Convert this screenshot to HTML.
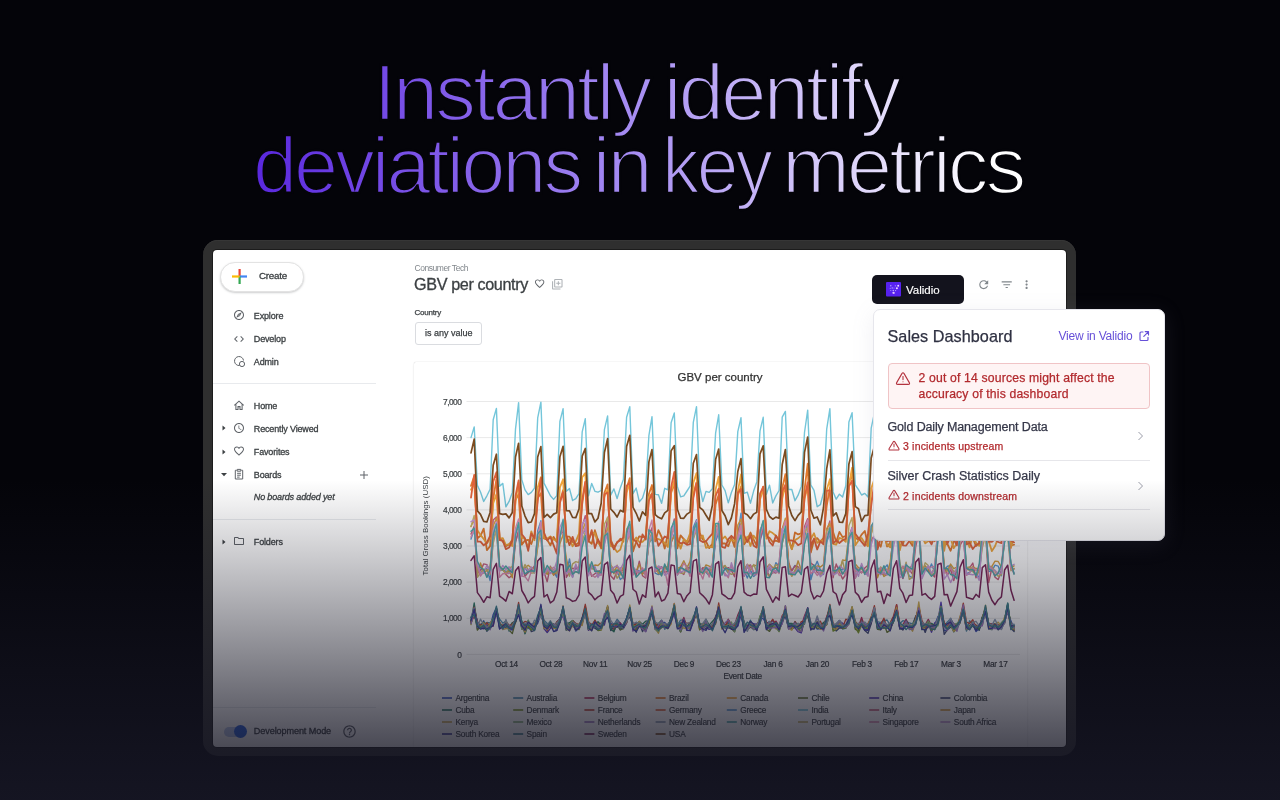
<!DOCTYPE html>
<html><head><meta charset="utf-8">
<style>
*{margin:0;padding:0;box-sizing:border-box}
html,body{width:1280px;height:800px;overflow:hidden;background:#040409;font-family:"Liberation Sans",sans-serif}
body{will-change:transform}
.t{position:absolute;white-space:nowrap;line-height:1}
#headline{position:absolute;left:0;top:0;width:1280px;height:240px}
#frame{position:absolute;left:203px;top:240px;width:873px;height:516px;border-radius:15px;background:#2f2f2f;box-shadow:inset 0 1px 0 #363636}
#screen{position:absolute;left:213px;top:250px;width:853px;height:497px;border-radius:4px;background:#fff;overflow:hidden;box-shadow:0 0 0 1px #1c1c1c}
.side{color:#3c4043;font-size:9px;letter-spacing:-.15px;-webkit-text-stroke:.3px #3c4043}
.ico{position:absolute}
#overlay{position:absolute;left:0;top:480px;width:1280px;height:320px;background:linear-gradient(to bottom,rgba(22,22,36,0) 0%,rgba(22,22,36,.93) 100%)}
</style></head><body>
<svg id="headline" width="1280" height="240" viewBox="0 0 1280 240">
<defs><linearGradient id="hg" gradientUnits="userSpaceOnUse" x1="256" y1="0" x2="990" y2="0">
<stop offset="0" stop-color="#5a28de"/><stop offset=".5" stop-color="#a48af2"/><stop offset="1" stop-color="#ffffff"/></linearGradient></defs>
<g font-family="Liberation Sans" font-size="79" letter-spacing="-3" fill="url(#hg)" stroke="#040409" stroke-width="2.3">
<text x="373.5" y="119.5" textLength="275.68" lengthAdjust="spacingAndGlyphs">Instantly</text>
<text x="663.5" y="119.5" textLength="234.62" lengthAdjust="spacingAndGlyphs">identify</text>
<text x="253" y="192.5" textLength="327.06" lengthAdjust="spacingAndGlyphs">deviations</text>
<text x="592.5" y="192.5" textLength="57.04" lengthAdjust="spacingAndGlyphs">in</text>
<text x="662.0" y="192.5" textLength="108.21" lengthAdjust="spacingAndGlyphs">key</text>
<text x="782.0" y="192.5" textLength="241.25" lengthAdjust="spacingAndGlyphs">metrics</text>
</g></svg>
<div id="frame"></div>
<div id="screen">
<!-- sidebar -->
<div style="position:absolute;left:7px;top:12px;width:83.5px;height:29.5px;border-radius:15px;background:#fff;border:1px solid #e3e3e3;box-shadow:0 1px 2px rgba(60,64,67,.25)"></div>
<svg class="ico" style="left:18px;top:18px" width="17" height="17" viewBox="0 0 17 17">
<rect x="7.5" y="1" width="2.2" height="7.5" fill="#ea4335"/>
<rect x="8.6" y="7.4" width="7.4" height="2.2" fill="#4285f4"/>
<rect x="7.5" y="8.5" width="2.2" height="7.5" fill="#34a853"/>
<rect x="1" y="7.4" width="7.5" height="2.2" fill="#fbbc04"/>
</svg>
<div class="t side" id="s_create" style="left:46px;top:21.40px;font-size:9.8px;letter-spacing:-.25px">Create</div>

<svg class="ico" style="left:20px;top:59.3px" width="12.00" height="12.00" viewBox="0 0 24 24"><path fill="#5f6368" d="M12 2C6.48 2 2 6.48 2 12s4.48 10 10 10 10-4.48 10-10S17.52 2 12 2zm0 18c-4.41 0-8-3.59-8-8s3.59-8 8-8 8 3.59 8 8-3.59 8-8 8zm-5.5-2.5l7.51-3.49L17.5 6.5 9.99 9.99 6.5 17.5zm5.5-6.6c.61 0 1.1.49 1.1 1.1s-.49 1.1-1.1 1.1-1.1-.49-1.1-1.1.49-1.1 1.1-1.1z"/></svg>
<div class="t side" id="s_explore" style="left:40.8px;top:61.98px">Explore</div>
<svg class="ico" style="left:20px;top:82.5px" width="12.00" height="12.00" viewBox="0 0 24 24"><path fill="#5f6368" d="M9.4 16.6L4.8 12l4.6-4.6L8 6l-6 6 6 6 1.4-1.4zm5.2 0l4.6-4.6-4.6-4.6L16 6l6 6-6 6-1.4-1.4z"/></svg>
<div class="t side" id="s_develop" style="left:40.8px;top:85.08px">Develop</div>
<svg class="ico" style="left:20px;top:105px" width="13" height="13" viewBox="0 0 13 13" fill="none" stroke="#5f6368" stroke-width="1">
<path d="M6.5 10.5 A4.5 4.5 0 1 1 10.5 5.5"/><circle cx="9" cy="9" r="2.6"/>
</svg>
<div class="t side" id="s_admin" style="left:40.8px;top:107.78px">Admin</div>

<div style="position:absolute;left:0;top:133px;width:163px;height:1px;background:#e8eaed"></div>

<svg class="ico" style="left:20px;top:148.7px" width="12" height="12" viewBox="0 0 12 12" fill="none" stroke="#5f6368" stroke-width="1.05"><path d="M1.3 6.4 L6 2.1 L10.7 6.4 M2.9 5.1 V10.5 H5 V7.6 H7 V10.5 H9.1 V5.1"/></svg>
<div class="t side" id="s_home" style="left:40.8px;top:151.58px">Home</div>

<svg class="ico" style="left:8px;top:174px" width="6" height="8" viewBox="0 0 6 8"><path d="M1.5 1.5 L4.5 4 L1.5 6.5Z" fill="#3c4043"/></svg>
<svg class="ico" style="left:20px;top:172.4px" width="12.00" height="12.00" viewBox="0 0 24 24"><path fill="#5f6368" d="M11.99 2C6.47 2 2 6.48 2 12s4.47 10 9.99 10C17.52 22 22 17.52 22 12S17.52 2 11.99 2zM12 20c-4.42 0-8-3.58-8-8s3.58-8 8-8 8 3.58 8 8-3.58 8-8 8zm.5-13H11v6l5.25 3.15.75-1.23-4.5-2.67z"/></svg>
<div class="t side" id="s_recent" style="left:40.8px;top:174.68px">Recently Viewed</div>

<svg class="ico" style="left:8px;top:197.6px" width="6" height="8" viewBox="0 0 6 8"><path d="M1.5 1.5 L4.5 4 L1.5 6.5Z" fill="#3c4043"/></svg>
<svg class="ico" style="left:20px;top:195.4px" width="12.00" height="12.00" viewBox="0 0 24 24"><path fill="#5f6368" d="M16.5 3c-1.74 0-3.41.81-4.5 2.09C10.91 3.810 9.24 3 7.5 3 4.42 3 2 5.42 2 8.5c0 3.78 3.4 6.86 8.55 11.54L12 21.35l1.45-1.32C18.6 15.36 22 12.28 22 8.5 22 5.42 19.58 3 16.5 3zm-4.4 15.55l-.1.1-.1-.1C7.14 14.24 4 11.39 4 8.5 4 6.5 5.5 5 7.5 5c1.54 0 3.04.99 3.57 2.36h1.87C13.46 5.99 14.96 5 16.5 5c2 0 3.5 1.5 3.5 3.5 0 2.89-3.14 5.74-7.9 10.05z"/></svg>
<div class="t side" id="s_fav" style="left:40.8px;top:197.68px">Favorites</div>

<svg class="ico" style="left:7px;top:221px" width="8" height="7" viewBox="0 0 8 7"><path d="M1 2 L4 5.2 L7 2Z" fill="#3c4043"/></svg>
<svg class="ico" style="left:20.25px;top:217.8px" width="12" height="12" viewBox="0 0 12 12" fill="none" stroke="#5f6368" stroke-width="1"><path d="M3.6 2.3 H2.3 V11 H9.7 V2.3 H8.4 M4.2 1.4 H7.8 V3.2 H4.2 Z M4.1 5.3 H7.9 M4.1 7.2 H7.9 M4.1 9.1 H6.6"/></svg>
<div class="t side" id="s_boards" style="left:40.8px;top:220.58px">Boards</div>
<svg class="ico" style="left:146px;top:219.5px" width="10" height="10" viewBox="0 0 10 10" fill="none" stroke="#5f6368" stroke-width="1"><path d="M5 1 V9 M1 5 H9"/></svg>
<div class="t side" id="s_noboards" style="left:40.8px;top:243.48px;font-style:italic">No boards added yet</div>

<div style="position:absolute;left:0;top:269px;width:163px;height:1px;background:#e8eaed"></div>

<svg class="ico" style="left:8px;top:287.5px" width="6" height="8" viewBox="0 0 6 8"><path d="M1.5 1.5 L4.5 4 L1.5 6.5Z" fill="#3c4043"/></svg>
<svg class="ico" style="left:20px;top:285px" width="12.00" height="12.00" viewBox="0 0 24 24"><path fill="#5f6368" d="M9.17 6l2 2H20v10H4V6h5.17M10 4H4c-1.1 0-1.99.9-1.99 2L2 18c0 1.1.9 2 2 2h16c1.1 0 2-.9 2-2V8c0-1.1-.9-2-2-2h-8l-2-2z"/></svg>
<div class="t side" id="s_folders" style="left:40.8px;top:287.50px">Folders</div>

<div style="position:absolute;left:0;top:457px;width:163px;height:1px;background:#e8eaed"></div>
<div style="position:absolute;left:11px;top:477px;width:21px;height:9.5px;border-radius:5px;background:#b9c9ec"></div>
<div style="position:absolute;left:21px;top:475.2px;width:13px;height:13px;border-radius:50%;background:#2a62dc"></div>
<div class="t side" id="s_devmode" style="left:40.8px;top:477.2px;font-size:9.1px;letter-spacing:-.1px">Development Mode</div>
<svg class="ico" style="left:129.1px;top:474.1px" width="15.00" height="15.00" viewBox="0 0 24 24"><path fill="#5f6368" d="M11 18h2v-2h-2v2zm1-16C6.48 2 2 6.48 2 12s4.48 10 10 10 10-4.48 10-10S17.52 2 12 2zm0 18c-4.41 0-8-3.59-8-8s3.59-8 8-8 8 3.59 8 8-3.59 8-8 8zm0-14c-2.21 0-4 1.79-4 4h2c0-1.1.9-2 2-2s2 .9 2 2c0 2-3 1.75-3 5h2c0-2.25 3-2.5 3-5 0-2.21-1.79-4-4-4z"/></svg>

<!-- header -->
<div class="t" id="h_ct" style="left:201.5px;top:13.6px;font-size:8.5px;letter-spacing:-.45px;color:#80868b">Consumer Tech</div>
<div class="t" id="h_title" style="-webkit-text-stroke:.3px currentColor;left:201px;top:26.2px;font-size:16.2px;letter-spacing:-.38px;color:#3c4043">GBV per country</div>
<svg class="ico" style="left:320.7px;top:28.3px" width="11.28" height="11.28" viewBox="0 0 24 24"><path fill="#5f6368" d="M16.5 3c-1.74 0-3.41.81-4.5 2.09C10.91 3.810 9.24 3 7.5 3 4.42 3 2 5.42 2 8.5c0 3.78 3.4 6.86 8.55 11.54L12 21.35l1.45-1.32C18.6 15.36 22 12.28 22 8.5 22 5.42 19.58 3 16.5 3zm-4.4 15.55l-.1.1-.1-.1C7.14 14.24 4 11.39 4 8.5 4 6.5 5.5 5 7.5 5c1.54 0 3.04.99 3.57 2.36h1.87C13.46 5.99 14.96 5 16.5 5c2 0 3.5 1.5 3.5 3.5 0 2.89-3.14 5.74-7.9 10.05z"/></svg>
<svg class="ico" style="left:337.95px;top:27.7px" width="12.60" height="12.60" viewBox="0 0 24 24"><path fill="#aeb2b6" d="M4 6H2v14c0 1.1.9 2 2 2h14v-2H4V6zm16-4H8c-1.1 0-2 .9-2 2v12c0 1.1.9 2 2 2h12c1.1 0 2-.9 2-2V4c0-1.1-.9-2-2-2zm0 14H8V4h12v12zm-7-2h2v-3h3V9h-3V6h-2v3h-3v2h3z"/></svg>
<div class="t" id="h_country" style="-webkit-text-stroke:.25px currentColor;left:201.5px;top:58.7px;font-size:8px;letter-spacing:-.2px;color:#3c4043">Country</div>
<div style="position:absolute;left:201.5px;top:71.5px;width:67px;height:23px;border:1px solid #dadce0;border-radius:3px;background:#fff"></div>
<div class="t" id="h_any" style="-webkit-text-stroke:.25px currentColor;left:212px;top:79px;font-size:9px;color:#3c4043">is any value</div>

<!-- toolbar -->
<div style="position:absolute;left:659.2px;top:25.2px;width:91.7px;height:28.4px;border-radius:5px;background:#13131d"></div>
<svg class="ico" style="left:673px;top:32px" width="15" height="14.5" viewBox="0 0 15 14.5">
<rect width="15" height="14.5" rx="1" fill="#5722f0"/>
<g fill="#b9a4ff"><circle cx="4.8" cy="3.8" r=".7"/><circle cx="9.3" cy="3.8" r=".6"/><circle cx="4.2" cy="6.2" r=".5"/><circle cx="6.2" cy="6" r=".7"/><circle cx="8" cy="6" r=".5"/>
<circle cx="4.8" cy="8.6" r=".5"/><circle cx="7.3" cy="8.6" r=".8"/><circle cx="9.6" cy="8.6" r=".6"/><circle cx="8.3" cy="10.8" r=".6"/><circle cx="6.5" cy="10.8" r=".5"/></g>
<g fill="#f0d8ff"><circle cx="12.2" cy="3.8" r=".95"/><circle cx="10.9" cy="6.3" r="1"/><circle cx="7.6" cy="10.9" r=".9"/></g>
</svg>
<div class="t" id="v_btn" style="-webkit-text-stroke:.15px currentColor;left:693px;top:35px;font-size:11.5px;color:#fff">Validio</div>
<svg class="ico" style="left:763.68px;top:27.78px" width="13.44" height="13.44" viewBox="0 0 24 24"><path fill="#80868b" d="M17.65 6.35C16.2 4.9 14.21 4 12 4c-4.42 0-7.99 3.58-7.99 8s3.57 8 7.99 8c3.730 0 6.84-2.55 7.73-6h-2.08c-.82 2.33-3.04 4-5.65 4-3.310 0-6-2.69-6-6s2.69-6 6-6c1.66 0 3.14.69 4.22 1.78L13 11h7V4l-2.35 2.35z"/></svg>
<svg class="ico" style="left:786.78px;top:27.68px" width="13.44" height="13.44" viewBox="0 0 24 24"><path fill="#80868b" d="M10 18h4v-2h-4v2zM3 6v2h18V6H3zm3 7h12v-2H6v2z"/></svg>
<svg class="ico" style="left:807.25px;top:27.9px" width="13.20" height="13.20" viewBox="0 0 24 24"><path fill="#80868b" d="M12 8c1.1 0 2-.9 2-2s-.9-2-2-2-2 .9-2 2 .9 2 2 2zm0 2c-1.1 0-2 .9-2 2s.9 2 2 2 2-.9 2-2-.9-2-2-2zm0 6c-1.1 0-2 .9-2 2s.9 2 2 2 2-.9 2-2-.9-2-2-2z"/></svg>

<!-- chart card -->
<div style="position:absolute;left:201px;top:112px;width:612.5px;height:420px;background:#fff;border-radius:2px;box-shadow:0 0 1px rgba(0,0,0,.25),0 1px 3px rgba(0,0,0,.06)"></div>
<div class="t" id="c_title" style="-webkit-text-stroke:.25px currentColor;left:464.5px;top:122px;font-size:11.5px;color:#333">GBV per country</div>
<svg class="ico" style="left:0;top:0" width="853" height="497" viewBox="213 250 853 497">
<line x1="466.5" y1="654.4" x2="1020" y2="654.4" stroke="#e9e9e9" stroke-width="1"/>
<line x1="466.5" y1="618.3" x2="1020" y2="618.3" stroke="#e9e9e9" stroke-width="1"/>
<line x1="466.5" y1="582.1" x2="1020" y2="582.1" stroke="#e9e9e9" stroke-width="1"/>
<line x1="466.5" y1="546.0" x2="1020" y2="546.0" stroke="#e9e9e9" stroke-width="1"/>
<line x1="466.5" y1="509.9" x2="1020" y2="509.9" stroke="#e9e9e9" stroke-width="1"/>
<line x1="466.5" y1="473.8" x2="1020" y2="473.8" stroke="#e9e9e9" stroke-width="1"/>
<line x1="466.5" y1="437.6" x2="1020" y2="437.6" stroke="#e9e9e9" stroke-width="1"/>
<line x1="466.5" y1="401.5" x2="1020" y2="401.5" stroke="#e9e9e9" stroke-width="1"/>
<g font-family="Liberation Sans" font-size="8.4" letter-spacing="-0.55" fill="#3c4043" stroke="#3c4043" stroke-width="0.2" text-anchor="end">
<text id="yl_0" x="461.3" y="657.5">0</text>
<text id="yl_1" x="461.3" y="621.4">1,000</text>
<text id="yl_2" x="461.3" y="585.2">2,000</text>
<text id="yl_3" x="461.3" y="549.1">3,000</text>
<text id="yl_4" x="461.3" y="513.0">4,000</text>
<text id="yl_5" x="461.3" y="476.9">5,000</text>
<text id="yl_6" x="461.3" y="440.7">6,000</text>
<text id="yl_7" x="461.3" y="404.6">7,000</text>
</g>
<text id="ytitle" transform="translate(428.4 525.8) rotate(-90)" font-family="Liberation Sans" font-size="7.95" fill="#3c4043" text-anchor="middle">Total Gross Bookings (USD)</text>
<g font-family="Liberation Sans" font-size="8.3" letter-spacing="-0.25" fill="#3c4043" stroke="#3c4043" stroke-width="0.2" text-anchor="middle">
<text id="xl_Oct_14" x="506.4" y="666.7">Oct 14</text>
<text id="xl_Oct_28" x="551" y="666.7">Oct 28</text>
<text id="xl_Nov_11" x="595.2" y="666.7">Nov 11</text>
<text id="xl_Nov_25" x="639.6" y="666.7">Nov 25</text>
<text id="xl_Dec_9" x="684" y="666.7">Dec 9</text>
<text id="xl_Dec_23" x="728.4" y="666.7">Dec 23</text>
<text id="xl_Jan_6" x="773" y="666.7">Jan 6</text>
<text id="xl_Jan_20" x="817.5" y="666.7">Jan 20</text>
<text id="xl_Feb_3" x="862" y="666.7">Feb 3</text>
<text id="xl_Feb_17" x="906.3" y="666.7">Feb 17</text>
<text id="xl_Mar_3" x="951" y="666.7">Mar 3</text>
<text id="xl_Mar_17" x="995.4" y="666.7">Mar 17</text>
<text id="xtitle" x="742.7" y="678.8">Event Date</text>
</g>
<g fill="none" stroke-linejoin="round" stroke-linecap="round">
<polyline points="471.0,617.8 474.2,610.8 477.4,629.2 480.5,626.8 483.7,620.8 486.9,631.2 490.1,627.5 493.2,614.5 496.4,607.8 499.6,627.2 502.8,627.5 505.9,623.6 509.1,628.7 512.3,630.0 515.5,621.7 518.6,612.5 521.8,627.1 525.0,624.1 528.2,628.0 531.3,630.0 534.5,626.3 537.7,623.4 540.9,614.1 544.0,623.9 547.2,627.1 550.4,624.0 553.6,628.1 556.8,626.5 559.9,619.1 563.1,612.5 566.3,623.2 569.5,624.8 572.6,622.5 575.8,631.1 579.0,628.2 582.2,621.7 585.3,607.6 588.5,629.6 591.7,626.1 594.9,622.5 598.0,626.7 601.2,625.3 604.4,621.3 607.6,610.8 610.7,623.9 613.9,623.7 617.1,624.6 620.3,629.8 623.4,627.1 626.6,618.9 629.8,613.1 633.0,628.1 636.2,627.7 639.3,623.0 642.5,627.4 645.7,627.4 648.9,619.2 652.0,613.4 655.2,626.0 658.4,625.2 661.6,622.4 664.7,622.5 667.9,626.2 671.1,619.1 674.3,608.5 677.4,623.1 680.6,624.4 683.8,623.7 687.0,627.8 690.1,626.8 693.3,619.0 696.5,614.6 699.7,625.2 702.8,628.0 706.0,623.8 709.2,627.3 712.4,627.0 715.6,621.0 718.7,611.9 721.9,625.0 725.1,626.5 728.3,626.2 731.4,626.5 734.6,628.7 737.8,626.2 741.0,615.4 744.1,629.2 747.3,626.5 750.5,621.0 753.7,627.2 756.8,626.4 760.0,618.8 763.2,618.4 766.4,624.3 769.5,621.5 772.7,624.0 775.9,627.9 779.1,625.7 782.2,619.0 785.4,615.5 788.6,628.1 791.8,629.1 795.0,626.8 798.1,624.1 801.3,625.3 804.5,624.0 807.7,607.6 810.8,627.9 814.0,625.1 817.2,629.1 820.4,628.6 823.5,625.5 826.7,621.7 829.9,606.8 833.1,628.2 836.2,624.4 839.4,620.4 842.6,623.7 845.8,627.2 848.9,620.8 852.1,611.4 855.3,628.1 858.5,624.8 861.6,624.5 864.8,624.1 868.0,629.8 871.2,618.6 874.4,610.4 877.5,623.7 880.7,623.6 883.9,620.1 887.1,628.3 890.2,625.0 893.4,621.7 896.6,611.2 899.8,626.5 902.9,624.6 906.1,623.3 909.3,626.8 912.5,626.7 915.6,618.2 918.8,610.9 922.0,623.7 925.2,630.4 928.3,624.9 931.5,624.7 934.7,625.2 937.9,616.7 941.0,612.7 944.2,630.8 947.4,629.6 950.6,622.6 953.8,629.4 956.9,626.9 960.1,619.6 963.3,608.8 966.5,630.2 969.6,625.3 972.8,624.2 976.0,631.6 979.2,628.7 982.3,619.6 985.5,608.0 988.7,625.2 991.9,628.7 995.0,626.9 998.2,625.9 1001.4,627.6 1004.6,621.4 1007.7,612.4 1010.9,620.7 1014.1,628.8" stroke="#3d5bbf" stroke-width="1.35"/>
<polyline points="471.0,619.5 474.2,609.5 477.4,625.7 480.5,624.5 483.7,623.9 486.9,622.5 490.1,623.0 493.2,618.2 496.4,613.1 499.6,619.2 502.8,623.2 505.9,621.1 509.1,631.2 512.3,624.3 515.5,619.8 518.6,613.1 521.8,621.5 525.0,627.8 528.2,622.5 531.3,624.5 534.5,623.2 537.7,619.5 540.9,610.4 544.0,620.3 547.2,623.4 550.4,625.0 553.6,628.6 556.8,622.0 559.9,618.6 563.1,615.4 566.3,623.4 569.5,626.4 572.6,620.6 575.8,623.8 579.0,625.6 582.2,618.7 585.3,614.1 588.5,624.8 591.7,627.4 594.9,623.8 598.0,625.7 601.2,625.9 604.4,616.6 607.6,614.0 610.7,629.9 613.9,624.9 617.1,619.3 620.3,623.2 623.4,628.0 626.6,622.1 629.8,610.6 633.0,627.2 636.2,622.3 639.3,623.2 642.5,628.6 645.7,627.3 648.9,619.6 652.0,614.4 655.2,624.5 658.4,624.9 661.6,620.1 664.7,629.3 667.9,626.5 671.1,620.8 674.3,611.9 677.4,625.4 680.6,620.2 683.8,619.8 687.0,626.1 690.1,625.5 693.3,620.2 696.5,614.0 699.7,626.4 702.8,625.7 706.0,622.6 709.2,625.7 712.4,625.8 715.6,619.7 718.7,612.3 721.9,627.2 725.1,627.0 728.3,622.4 731.4,628.8 734.6,626.6 737.8,623.0 741.0,610.2 744.1,625.3 747.3,626.2 750.5,620.1 753.7,629.6 756.8,628.1 760.0,618.4 763.2,612.3 766.4,623.6 769.5,629.5 772.7,626.3 775.9,628.0 779.1,627.0 782.2,619.0 785.4,613.6 788.6,623.5 791.8,628.0 795.0,624.5 798.1,627.8 801.3,626.7 804.5,619.1 807.7,616.9 810.8,625.4 814.0,626.3 817.2,622.6 820.4,627.3 823.5,624.2 826.7,619.1 829.9,607.4 833.1,626.8 836.2,624.0 839.4,623.9 842.6,629.0 845.8,628.0 848.9,619.1 852.1,614.2 855.3,625.2 858.5,625.8 861.6,620.8 864.8,625.0 868.0,627.2 871.2,620.8 874.4,611.8 877.5,621.6 880.7,622.6 883.9,620.6 887.1,620.0 890.2,625.3 893.4,617.7 896.6,612.7 899.8,623.6 902.9,620.7 906.1,621.7 909.3,622.9 912.5,624.0 915.6,617.4 918.8,611.6 922.0,625.4 925.2,627.2 928.3,620.4 931.5,627.2 934.7,625.5 937.9,621.9 941.0,610.1 944.2,626.6 947.4,621.9 950.6,618.8 953.8,625.6 956.9,625.1 960.1,621.2 963.3,608.4 966.5,631.1 969.6,620.8 972.8,624.1 976.0,626.8 979.2,627.2 982.3,616.8 985.5,615.3 988.7,624.9 991.9,624.0 995.0,623.8 998.2,625.8 1001.4,629.4 1004.6,619.0 1007.7,604.6 1010.9,628.2 1014.1,626.7" stroke="#4f8fb0" stroke-width="1.35"/>
<polyline points="471.0,622.6 474.2,615.7 477.4,624.6 480.5,625.1 483.7,623.3 486.9,628.0 490.1,625.7 493.2,626.1 496.4,608.6 499.6,622.7 502.8,627.1 505.9,622.0 509.1,625.3 512.3,624.8 515.5,620.2 518.6,610.3 521.8,624.9 525.0,625.8 528.2,622.0 531.3,626.6 534.5,625.3 537.7,617.4 540.9,613.7 544.0,624.1 547.2,628.2 550.4,623.2 553.6,626.5 556.8,625.4 559.9,620.5 563.1,611.5 566.3,626.5 569.5,626.3 572.6,621.2 575.8,628.0 579.0,624.7 582.2,623.8 585.3,606.5 588.5,629.8 591.7,628.9 594.9,622.4 598.0,623.9 601.2,626.1 604.4,624.0 607.6,607.0 610.7,624.5 613.9,629.3 617.1,623.3 620.3,622.9 623.4,627.3 626.6,622.6 629.8,608.9 633.0,626.9 636.2,623.4 639.3,624.3 642.5,626.5 645.7,625.0 648.9,622.8 652.0,611.2 655.2,625.7 658.4,627.3 661.6,621.8 664.7,626.3 667.9,626.3 671.1,618.9 674.3,614.2 677.4,625.1 680.6,626.0 683.8,617.4 687.0,626.6 690.1,627.9 693.3,620.2 696.5,612.6 699.7,629.6 702.8,626.0 706.0,622.3 709.2,627.3 712.4,624.2 715.6,616.6 718.7,610.6 721.9,619.8 725.1,627.6 728.3,619.2 731.4,625.9 734.6,624.6 737.8,615.1 741.0,607.9 744.1,623.1 747.3,628.7 750.5,627.4 753.7,624.8 756.8,624.4 760.0,620.4 763.2,611.7 766.4,622.4 769.5,623.5 772.7,625.2 775.9,621.1 779.1,626.2 782.2,615.6 785.4,611.5 788.6,627.1 791.8,627.4 795.0,621.5 798.1,626.0 801.3,625.9 804.5,615.9 807.7,608.1 810.8,623.3 814.0,624.4 817.2,626.4 820.4,626.7 823.5,625.8 826.7,616.7 829.9,608.4 833.1,625.6 836.2,629.4 839.4,620.7 842.6,626.0 845.8,626.7 848.9,618.4 852.1,610.2 855.3,626.5 858.5,626.8 861.6,617.5 864.8,627.3 868.0,627.2 871.2,618.6 874.4,608.2 877.5,626.8 880.7,625.6 883.9,623.0 887.1,625.8 890.2,623.7 893.4,620.8 896.6,604.6 899.8,625.1 902.9,624.5 906.1,619.3 909.3,626.4 912.5,630.1 915.6,621.4 918.8,606.3 922.0,626.2 925.2,624.9 928.3,619.4 931.5,626.1 934.7,625.3 937.9,620.8 941.0,613.7 944.2,625.4 947.4,625.3 950.6,622.3 953.8,629.5 956.9,626.1 960.1,618.0 963.3,612.1 966.5,629.5 969.6,626.6 972.8,623.8 976.0,625.1 979.2,627.6 982.3,617.7 985.5,608.0 988.7,624.1 991.9,624.0 995.0,624.7 998.2,627.1 1001.4,624.2 1004.6,620.3 1007.7,608.7 1010.9,625.4 1014.1,630.0" stroke="#b3315e" stroke-width="1.35"/>
<polyline points="471.0,485.9 474.2,476.4 477.4,538.3 480.5,535.8 483.7,528.6 486.9,550.2 490.1,546.1 493.2,499.0 496.4,479.4 499.6,538.4 502.8,541.4 505.9,546.1 509.1,544.4 512.3,539.7 515.5,500.1 518.6,494.1 521.8,544.7 525.0,540.4 528.2,539.9 531.3,544.0 534.5,534.2 537.7,497.9 540.9,493.3 544.0,538.5 547.2,539.7 550.4,545.4 553.6,536.9 556.8,541.9 559.9,501.6 563.1,490.2 566.3,536.6 569.5,536.6 572.6,541.8 575.8,544.7 579.0,542.4 582.2,504.0 585.3,482.8 588.5,541.0 591.7,543.8 594.9,530.2 598.0,540.2 601.2,548.5 604.4,492.7 607.6,484.4 610.7,539.9 613.9,547.1 617.1,542.8 620.3,538.8 623.4,541.7 626.6,488.2 629.8,478.1 633.0,551.4 636.2,542.0 639.3,536.3 642.5,537.1 645.7,536.4 648.9,494.0 652.0,485.0 655.2,541.4 658.4,530.2 661.6,537.0 664.7,548.5 667.9,533.9 671.1,493.0 674.3,482.7 677.4,548.3 680.6,535.3 683.8,539.1 687.0,543.3 690.1,539.6 693.3,494.6 696.5,482.3 699.7,532.9 702.8,539.5 706.0,541.4 709.2,548.1 712.4,543.7 715.6,504.4 718.7,494.7 721.9,543.5 725.1,543.5 728.3,546.2 731.4,537.5 734.6,546.9 737.8,495.4 741.0,486.8 744.1,544.4 747.3,539.8 750.5,532.5 753.7,539.6 756.8,545.8 760.0,499.8 763.2,486.6 766.4,536.2 769.5,537.8 772.7,542.0 775.9,540.7 779.1,541.9 782.2,488.2 785.4,474.2 788.6,538.7 791.8,549.1 795.0,532.4 798.1,534.4 801.3,533.4 804.5,489.8 807.7,463.6 810.8,552.6 814.0,540.0 817.2,538.1 820.4,542.0 823.5,537.9 826.7,505.8 829.9,487.6 833.1,532.0 836.2,542.0 839.4,531.9 842.6,537.1 845.8,536.1 848.9,482.5 852.1,474.4 855.3,537.6 858.5,539.9 861.6,534.6 864.8,531.0 868.0,545.0 871.2,500.0 874.4,494.3 877.5,541.9 880.7,546.8 883.9,533.1 887.1,546.5 890.2,542.7 893.4,479.3 896.6,477.5 899.8,539.5 902.9,544.2 906.1,534.3 909.3,541.0 912.5,545.8 915.6,492.3 918.8,477.9 922.0,537.9 925.2,540.7 928.3,533.7 931.5,534.2 934.7,541.2 937.9,490.1 941.0,479.1 944.2,544.4 947.4,544.0 950.6,550.8 953.8,541.4 956.9,538.3 960.1,490.3 963.3,480.7 966.5,538.8 969.6,542.7 972.8,537.9 976.0,546.1 979.2,543.8 982.3,502.3 985.5,482.7 988.7,540.5 991.9,537.9 995.0,534.9 998.2,536.7 1001.4,534.8 1004.6,495.7 1007.7,487.5 1010.9,545.5 1014.1,544.7" stroke="#e27a2c" stroke-width="1.8"/>
<polyline points="471.0,489.6 474.2,483.9 477.4,530.2 480.5,534.9 483.7,539.0 486.9,543.5 490.1,538.6 493.2,503.1 496.4,494.3 499.6,538.6 502.8,538.1 505.9,545.0 509.1,544.2 512.3,546.1 515.5,501.3 518.6,482.5 521.8,537.6 525.0,539.0 528.2,548.0 531.3,531.3 534.5,540.2 537.7,487.4 540.9,477.1 544.0,537.8 547.2,538.4 550.4,536.4 553.6,539.5 556.8,540.6 559.9,487.3 563.1,479.3 566.3,542.3 569.5,539.2 572.6,546.3 575.8,541.3 579.0,533.7 582.2,477.3 585.3,473.1 588.5,539.9 591.7,532.7 594.9,533.1 598.0,543.3 601.2,545.2 604.4,496.6 607.6,489.8 610.7,546.0 613.9,547.4 617.1,552.1 620.3,549.6 623.4,538.8 626.6,492.5 629.8,483.2 633.0,541.8 636.2,537.5 639.3,542.0 642.5,541.9 645.7,538.3 648.9,497.0 652.0,493.4 655.2,538.4 658.4,539.2 661.6,540.3 664.7,543.0 667.9,547.0 671.1,490.9 674.3,480.6 677.4,536.9 680.6,548.7 683.8,539.2 687.0,541.7 690.1,533.4 693.3,482.8 696.5,473.1 699.7,539.8 702.8,535.5 706.0,547.8 709.2,546.6 712.4,547.3 715.6,489.4 718.7,476.8 721.9,539.4 725.1,536.5 728.3,541.5 731.4,540.1 734.6,540.8 737.8,491.3 741.0,474.5 744.1,541.9 747.3,536.6 750.5,546.0 753.7,535.7 756.8,539.6 760.0,498.0 763.2,488.2 766.4,538.6 769.5,531.2 772.7,533.1 775.9,535.8 779.1,540.5 782.2,498.9 785.4,484.8 788.6,540.4 791.8,549.2 795.0,540.1 798.1,538.3 801.3,535.4 804.5,499.0 807.7,486.8 810.8,539.0 814.0,533.3 817.2,542.9 820.4,540.6 823.5,541.9 826.7,489.8 829.9,479.2 833.1,543.8 836.2,544.5 839.4,537.8 842.6,539.0 845.8,541.9 848.9,485.4 852.1,467.6 855.3,545.3 858.5,540.6 861.6,538.0 864.8,542.9 868.0,546.3 871.2,488.4 874.4,479.4 877.5,537.1 880.7,535.4 883.9,532.9 887.1,544.7 890.2,547.3 893.4,498.1 896.6,490.3 899.8,550.3 902.9,538.2 906.1,540.4 909.3,537.5 912.5,543.0 915.6,485.5 918.8,475.8 922.0,536.3 925.2,543.4 928.3,541.0 931.5,542.1 934.7,537.8 937.9,485.6 941.0,473.5 944.2,550.9 947.4,531.4 950.6,538.4 953.8,548.1 956.9,543.5 960.1,489.0 963.3,480.7 966.5,539.8 969.6,547.4 972.8,535.6 976.0,542.6 979.2,545.9 982.3,490.5 985.5,482.2 988.7,541.2 991.9,551.1 995.0,546.3 998.2,537.9 1001.4,540.6 1004.6,500.3 1007.7,487.5 1010.9,548.0 1014.1,536.2" stroke="#f0a53a" stroke-width="1.8"/>
<polyline points="471.0,622.5 474.2,608.8 477.4,630.2 480.5,626.0 483.7,625.3 486.9,630.8 490.1,627.8 493.2,622.3 496.4,611.4 499.6,625.6 502.8,625.0 505.9,624.2 509.1,629.9 512.3,633.6 515.5,621.9 518.6,611.7 521.8,627.9 525.0,627.9 528.2,627.0 531.3,629.0 534.5,628.3 537.7,619.4 540.9,611.9 544.0,626.0 547.2,624.7 550.4,627.4 553.6,625.5 556.8,623.4 559.9,619.0 563.1,610.5 566.3,628.8 569.5,626.7 572.6,625.2 575.8,629.7 579.0,628.0 582.2,618.2 585.3,606.8 588.5,628.0 591.7,626.9 594.9,622.0 598.0,625.1 601.2,626.7 604.4,622.1 607.6,607.8 610.7,629.4 613.9,630.9 617.1,623.6 620.3,630.0 623.4,628.6 626.6,619.6 629.8,611.1 633.0,628.0 636.2,626.7 639.3,625.8 642.5,627.2 645.7,624.4 648.9,620.6 652.0,612.7 655.2,628.9 658.4,630.2 661.6,627.8 664.7,624.1 667.9,627.4 671.1,617.5 674.3,604.7 677.4,627.1 680.6,628.1 683.8,619.3 687.0,627.4 690.1,628.7 693.3,619.7 696.5,611.8 699.7,624.2 702.8,624.0 706.0,624.2 709.2,629.1 712.4,625.5 715.6,622.9 718.7,606.4 721.9,625.8 725.1,624.7 728.3,628.0 731.4,628.5 734.6,631.9 737.8,620.8 741.0,607.5 744.1,624.6 747.3,626.9 750.5,623.0 753.7,625.8 756.8,630.5 760.0,616.5 763.2,608.9 766.4,629.0 769.5,631.4 772.7,626.1 775.9,626.2 779.1,627.0 782.2,621.0 785.4,610.3 788.6,625.1 791.8,628.6 795.0,622.0 798.1,628.1 801.3,632.4 804.5,621.3 807.7,614.5 810.8,628.5 814.0,626.0 817.2,628.2 820.4,628.4 823.5,627.3 826.7,624.5 829.9,610.7 833.1,629.0 836.2,626.4 839.4,624.9 842.6,625.3 845.8,624.7 848.9,621.6 852.1,607.8 855.3,629.4 858.5,630.6 861.6,621.2 864.8,627.0 868.0,625.8 871.2,620.7 874.4,611.0 877.5,629.3 880.7,629.8 883.9,623.4 887.1,632.4 890.2,630.1 893.4,621.6 896.6,608.8 899.8,628.1 902.9,629.9 906.1,624.5 909.3,628.8 912.5,627.6 915.6,617.9 918.8,609.5 922.0,626.2 925.2,630.5 928.3,624.7 931.5,626.0 934.7,629.5 937.9,623.8 941.0,607.5 944.2,625.8 947.4,627.6 950.6,623.5 953.8,630.4 956.9,625.8 960.1,622.9 963.3,608.0 966.5,629.1 969.6,627.5 972.8,622.1 976.0,626.0 979.2,627.5 982.3,617.4 985.5,609.3 988.7,623.1 991.9,625.5 995.0,624.3 998.2,627.5 1001.4,628.1 1004.6,620.4 1007.7,607.1 1010.9,624.7 1014.1,630.6" stroke="#6b7b3a" stroke-width="1.35"/>
<polyline points="471.0,623.1 474.2,611.5 477.4,621.3 480.5,628.0 483.7,625.0 486.9,624.8 490.1,627.6 493.2,619.8 496.4,608.3 499.6,628.8 502.8,626.0 505.9,623.9 509.1,629.9 512.3,628.9 515.5,617.6 518.6,606.3 521.8,628.6 525.0,630.7 528.2,622.2 531.3,624.3 534.5,629.2 537.7,619.9 540.9,609.5 544.0,628.6 547.2,632.5 550.4,628.3 553.6,626.5 556.8,630.4 559.9,618.7 563.1,609.0 566.3,629.7 569.5,627.3 572.6,626.3 575.8,626.2 579.0,627.9 582.2,622.7 585.3,610.4 588.5,630.4 591.7,626.0 594.9,626.7 598.0,628.5 601.2,623.7 604.4,625.1 607.6,606.7 610.7,628.2 613.9,626.8 617.1,621.2 620.3,626.5 623.4,628.5 626.6,622.9 629.8,607.4 633.0,630.8 636.2,628.8 639.3,624.4 642.5,626.6 645.7,631.4 648.9,622.9 652.0,612.9 655.2,626.5 658.4,627.4 661.6,623.3 664.7,626.5 667.9,624.9 671.1,621.5 674.3,610.6 677.4,624.9 680.6,628.6 683.8,623.9 687.0,630.4 690.1,630.7 693.3,621.8 696.5,612.1 699.7,625.5 702.8,626.2 706.0,626.5 709.2,629.4 712.4,628.6 715.6,618.3 718.7,610.8 721.9,627.3 725.1,626.5 728.3,624.3 731.4,627.5 734.6,627.1 737.8,622.2 741.0,611.6 744.1,627.4 747.3,629.7 750.5,625.9 753.7,623.9 756.8,624.2 760.0,621.9 763.2,612.0 766.4,625.5 769.5,624.9 772.7,619.9 775.9,626.4 779.1,628.0 782.2,618.7 785.4,615.1 788.6,627.5 791.8,627.1 795.0,627.9 798.1,631.7 801.3,632.9 804.5,617.8 807.7,613.7 810.8,624.2 814.0,627.8 817.2,625.7 820.4,628.6 823.5,626.4 826.7,620.5 829.9,611.2 833.1,627.2 836.2,628.2 839.4,626.0 842.6,623.1 845.8,626.8 848.9,622.4 852.1,612.2 855.3,626.6 858.5,624.2 861.6,626.4 864.8,629.5 868.0,629.6 871.2,622.9 874.4,611.4 877.5,626.2 880.7,628.5 883.9,627.3 887.1,625.2 890.2,624.5 893.4,620.0 896.6,607.8 899.8,625.8 902.9,629.8 906.1,624.5 909.3,627.0 912.5,628.5 915.6,619.1 918.8,607.2 922.0,626.7 925.2,628.0 928.3,623.2 931.5,632.2 934.7,622.9 937.9,621.1 941.0,602.2 944.2,625.7 947.4,629.5 950.6,618.9 953.8,624.0 956.9,627.5 960.1,620.6 963.3,612.6 966.5,624.8 969.6,626.6 972.8,625.4 976.0,628.9 979.2,628.4 982.3,624.1 985.5,611.1 988.7,625.4 991.9,629.6 995.0,624.6 998.2,627.1 1001.4,625.0 1004.6,623.3 1007.7,607.4 1010.9,629.1 1014.1,628.0" stroke="#5a3fb8" stroke-width="1.35"/>
<polyline points="471.0,622.8 474.2,607.4 477.4,622.1 480.5,627.3 483.7,628.8 486.9,627.1 490.1,627.9 493.2,621.5 496.4,610.3 499.6,624.2 502.8,627.7 505.9,627.0 509.1,626.9 512.3,625.3 515.5,619.4 518.6,609.2 521.8,626.8 525.0,628.5 528.2,620.8 531.3,631.6 534.5,630.4 537.7,621.1 540.9,609.5 544.0,626.4 547.2,626.9 550.4,624.5 553.6,623.8 556.8,626.8 559.9,620.5 563.1,611.5 566.3,630.2 569.5,628.3 572.6,621.1 575.8,625.2 579.0,627.9 582.2,623.2 585.3,613.9 588.5,627.8 591.7,627.1 594.9,628.1 598.0,630.1 601.2,626.1 604.4,618.6 607.6,607.6 610.7,630.5 613.9,625.8 617.1,626.7 620.3,628.1 623.4,624.3 626.6,620.5 629.8,616.9 633.0,625.2 636.2,632.2 639.3,622.9 642.5,631.6 645.7,625.3 648.9,619.1 652.0,610.0 655.2,628.6 658.4,625.8 661.6,622.4 664.7,626.8 667.9,628.2 671.1,617.0 674.3,611.3 677.4,625.2 680.6,631.9 683.8,624.1 687.0,628.1 690.1,628.8 693.3,621.0 696.5,607.5 699.7,626.8 702.8,625.2 706.0,629.3 709.2,625.6 712.4,628.2 715.6,618.5 718.7,607.9 721.9,627.1 725.1,625.4 728.3,625.7 731.4,628.0 734.6,627.0 737.8,622.1 741.0,612.5 744.1,630.8 747.3,629.0 750.5,626.7 753.7,629.6 756.8,628.6 760.0,623.3 763.2,611.0 766.4,627.4 769.5,626.3 772.7,624.1 775.9,625.2 779.1,629.9 782.2,623.2 785.4,614.4 788.6,628.6 791.8,627.7 795.0,622.7 798.1,627.9 801.3,627.6 804.5,619.0 807.7,612.5 810.8,630.1 814.0,626.5 817.2,623.3 820.4,626.8 823.5,624.4 826.7,621.7 829.9,614.6 833.1,624.5 836.2,631.0 839.4,628.0 842.6,628.2 845.8,627.9 848.9,619.9 852.1,610.4 855.3,626.7 858.5,627.9 861.6,624.2 864.8,630.6 868.0,633.3 871.2,623.9 874.4,608.8 877.5,628.6 880.7,626.2 883.9,627.8 887.1,626.9 890.2,628.3 893.4,622.1 896.6,609.8 899.8,629.2 902.9,627.8 906.1,623.8 909.3,626.1 912.5,626.0 915.6,616.5 918.8,612.0 922.0,623.9 925.2,632.4 928.3,623.9 931.5,625.6 934.7,627.5 937.9,623.0 941.0,611.6 944.2,634.3 947.4,629.6 950.6,627.1 953.8,628.1 956.9,628.6 960.1,622.3 963.3,609.5 966.5,627.8 969.6,627.9 972.8,626.1 976.0,626.2 979.2,630.4 982.3,618.2 985.5,610.6 988.7,624.8 991.9,627.8 995.0,628.4 998.2,628.5 1001.4,626.9 1004.6,619.5 1007.7,604.6 1010.9,628.3 1014.1,631.5" stroke="#46507a" stroke-width="1.35"/>
<polyline points="471.0,621.8 474.2,603.0 477.4,625.9 480.5,626.0 483.7,622.0 486.9,628.5 490.1,628.6 493.2,620.4 496.4,608.4 499.6,627.5 502.8,626.6 505.9,623.4 509.1,627.9 512.3,622.6 515.5,621.6 518.6,607.2 521.8,622.6 525.0,633.7 528.2,624.7 531.3,628.5 534.5,627.5 537.7,617.3 540.9,610.0 544.0,623.4 547.2,625.2 550.4,625.9 553.6,626.2 556.8,627.2 559.9,622.2 563.1,613.0 566.3,624.2 569.5,622.7 572.6,620.5 575.8,628.2 579.0,627.5 582.2,619.8 585.3,609.7 588.5,626.3 591.7,627.7 594.9,624.4 598.0,621.7 601.2,625.1 604.4,616.1 607.6,606.7 610.7,629.0 613.9,631.7 617.1,623.1 620.3,626.4 623.4,624.4 626.6,618.5 629.8,607.7 633.0,627.2 636.2,625.6 639.3,621.4 642.5,624.3 645.7,621.2 648.9,620.7 652.0,609.7 655.2,625.2 658.4,623.6 661.6,620.4 664.7,627.4 667.9,625.2 671.1,618.8 674.3,609.5 677.4,624.6 680.6,626.8 683.8,624.2 687.0,627.0 690.1,622.4 693.3,618.9 696.5,611.5 699.7,622.9 702.8,630.4 706.0,619.5 709.2,625.1 712.4,621.4 715.6,618.0 718.7,605.7 721.9,621.0 725.1,628.2 728.3,624.3 731.4,626.4 734.6,623.5 737.8,621.1 741.0,610.1 744.1,622.0 747.3,628.8 750.5,621.2 753.7,628.2 756.8,627.3 760.0,619.6 763.2,609.9 766.4,626.6 769.5,628.4 772.7,624.0 775.9,628.3 779.1,626.5 782.2,618.9 785.4,608.9 788.6,623.5 791.8,623.4 795.0,625.3 798.1,623.3 801.3,629.4 804.5,619.8 807.7,612.9 810.8,623.9 814.0,628.3 817.2,626.0 820.4,626.5 823.5,622.3 826.7,621.3 829.9,606.2 833.1,629.1 836.2,625.9 839.4,623.1 842.6,625.7 845.8,625.3 848.9,619.9 852.1,606.9 855.3,621.9 858.5,629.6 861.6,624.7 864.8,626.6 868.0,624.2 871.2,620.2 874.4,609.2 877.5,625.0 880.7,624.7 883.9,625.6 887.1,625.0 890.2,626.0 893.4,621.8 896.6,612.2 899.8,623.9 902.9,629.3 906.1,621.0 909.3,625.7 912.5,628.0 915.6,621.1 918.8,612.0 922.0,629.7 925.2,628.1 928.3,624.9 931.5,623.4 934.7,625.4 937.9,620.7 941.0,606.1 944.2,624.8 947.4,625.9 950.6,624.8 953.8,631.9 956.9,628.1 960.1,620.8 963.3,606.2 966.5,624.9 969.6,626.9 972.8,622.2 976.0,627.3 979.2,629.6 982.3,617.7 985.5,608.3 988.7,624.2 991.9,625.6 995.0,624.0 998.2,628.3 1001.4,627.2 1004.6,621.4 1007.7,603.2 1010.9,627.1 1014.1,626.1" stroke="#2f7a66" stroke-width="1.35"/>
<polyline points="471.0,621.1 474.2,613.1 477.4,626.9 480.5,626.2 483.7,625.0 486.9,629.8 490.1,626.1 493.2,621.5 496.4,610.4 499.6,623.0 502.8,627.8 505.9,621.4 509.1,625.9 512.3,624.8 515.5,622.9 518.6,612.4 521.8,621.8 525.0,627.3 528.2,626.2 531.3,630.0 534.5,624.7 537.7,620.6 540.9,609.2 544.0,625.7 547.2,629.1 550.4,623.1 553.6,624.8 556.8,624.8 559.9,619.7 563.1,612.9 566.3,625.0 569.5,623.9 572.6,625.2 575.8,625.7 579.0,629.5 582.2,620.6 585.3,610.4 588.5,625.2 591.7,630.6 594.9,620.0 598.0,630.5 601.2,630.1 604.4,621.5 607.6,610.5 610.7,625.4 613.9,625.6 617.1,623.4 620.3,627.8 623.4,625.3 626.6,620.6 629.8,610.8 633.0,626.1 636.2,629.8 639.3,625.0 642.5,624.5 645.7,629.8 648.9,623.6 652.0,609.8 655.2,625.7 658.4,626.0 661.6,626.9 664.7,626.6 667.9,628.4 671.1,621.7 674.3,609.5 677.4,622.8 680.6,631.9 683.8,621.4 687.0,628.3 690.1,627.3 693.3,622.0 696.5,613.2 699.7,629.8 702.8,627.2 706.0,624.9 709.2,625.7 712.4,627.2 715.6,621.6 718.7,610.4 721.9,628.6 725.1,625.5 728.3,626.6 731.4,626.3 734.6,629.6 737.8,618.7 741.0,614.1 744.1,625.6 747.3,628.8 750.5,622.1 753.7,626.1 756.8,627.6 760.0,620.2 763.2,608.4 766.4,627.4 769.5,628.0 772.7,625.0 775.9,627.1 779.1,631.6 782.2,621.4 785.4,605.9 788.6,626.8 791.8,628.6 795.0,623.3 798.1,629.5 801.3,625.0 804.5,620.4 807.7,609.9 810.8,626.5 814.0,625.5 817.2,621.5 820.4,627.3 823.5,627.2 826.7,624.7 829.9,611.6 833.1,631.1 836.2,629.4 839.4,623.4 842.6,628.5 845.8,627.6 848.9,622.3 852.1,607.3 855.3,627.1 858.5,632.8 861.6,624.4 864.8,628.2 868.0,628.4 871.2,620.2 874.4,607.7 877.5,626.7 880.7,626.2 883.9,628.2 887.1,626.2 890.2,628.5 893.4,617.6 896.6,613.0 899.8,627.5 902.9,624.4 906.1,625.2 909.3,626.8 912.5,625.7 915.6,618.7 918.8,607.4 922.0,625.2 925.2,625.5 928.3,621.6 931.5,630.3 934.7,626.2 937.9,621.5 941.0,609.2 944.2,625.4 947.4,629.4 950.6,622.3 953.8,629.7 956.9,625.9 960.1,618.3 963.3,611.4 966.5,628.2 969.6,625.7 972.8,626.2 976.0,628.6 979.2,627.7 982.3,620.8 985.5,615.0 988.7,625.5 991.9,627.2 995.0,625.1 998.2,629.1 1001.4,627.9 1004.6,623.0 1007.7,606.7 1010.9,623.9 1014.1,627.0" stroke="#7f9a2e" stroke-width="1.35"/>
<polyline points="471.0,622.8 474.2,607.2 477.4,623.7 480.5,624.5 483.7,626.7 486.9,622.7 490.1,627.0 493.2,623.7 496.4,608.9 499.6,622.8 502.8,626.4 505.9,622.1 509.1,626.7 512.3,624.1 515.5,619.9 518.6,602.4 521.8,624.1 525.0,621.4 528.2,622.3 531.3,628.0 534.5,625.1 537.7,618.9 540.9,606.2 544.0,621.8 547.2,630.6 550.4,624.1 553.6,628.4 556.8,621.7 559.9,619.5 563.1,609.3 566.3,622.1 569.5,629.7 572.6,620.6 575.8,623.5 579.0,624.7 582.2,618.5 585.3,604.3 588.5,621.6 591.7,625.3 594.9,620.4 598.0,624.9 601.2,623.0 604.4,621.3 607.6,609.3 610.7,625.5 613.9,624.2 617.1,626.6 620.3,626.4 623.4,624.8 626.6,621.2 629.8,612.7 633.0,623.1 636.2,625.8 639.3,625.6 642.5,628.4 645.7,623.9 648.9,619.4 652.0,607.8 655.2,622.8 658.4,627.1 661.6,623.5 664.7,626.1 667.9,625.7 671.1,622.7 674.3,603.4 677.4,626.9 680.6,624.7 683.8,621.8 687.0,623.5 690.1,622.9 693.3,622.2 696.5,610.8 699.7,626.1 702.8,627.3 706.0,623.7 709.2,625.9 712.4,627.4 715.6,623.9 718.7,602.9 721.9,625.3 725.1,626.2 728.3,619.9 731.4,624.7 734.6,626.2 737.8,619.7 741.0,612.5 744.1,625.1 747.3,625.7 750.5,623.4 753.7,624.6 756.8,625.6 760.0,620.2 763.2,606.6 766.4,624.1 769.5,624.2 772.7,619.3 775.9,624.6 779.1,626.4 782.2,621.7 785.4,610.9 788.6,626.5 791.8,625.0 795.0,624.8 798.1,627.8 801.3,621.6 804.5,620.9 807.7,611.6 810.8,625.6 814.0,627.8 817.2,623.4 820.4,621.2 823.5,628.3 826.7,618.5 829.9,604.5 833.1,623.6 836.2,625.6 839.4,625.6 842.6,627.8 845.8,619.2 848.9,620.7 852.1,612.1 855.3,621.4 858.5,625.0 861.6,624.1 864.8,627.0 868.0,623.6 871.2,617.4 874.4,605.6 877.5,627.2 880.7,624.6 883.9,618.2 887.1,628.1 890.2,622.9 893.4,616.2 896.6,604.7 899.8,624.8 902.9,625.5 906.1,622.6 909.3,624.7 912.5,626.4 915.6,619.4 918.8,606.3 922.0,620.9 925.2,626.7 928.3,626.9 931.5,625.2 934.7,625.8 937.9,623.3 941.0,608.7 944.2,622.7 947.4,625.4 950.6,622.2 953.8,623.9 956.9,625.9 960.1,618.4 963.3,603.1 966.5,622.0 969.6,623.7 972.8,619.7 976.0,626.8 979.2,625.8 982.3,620.0 985.5,607.3 988.7,625.9 991.9,626.0 995.0,624.2 998.2,625.0 1001.4,624.2 1004.6,619.4 1007.7,609.2 1010.9,624.8 1014.1,626.9" stroke="#c0483a" stroke-width="1.35"/>
<polyline points="471.0,497.7 474.2,474.9 477.4,541.7 480.5,541.6 483.7,545.3 486.9,542.7 490.1,536.0 493.2,481.8 496.4,472.2 499.6,540.1 502.8,540.6 505.9,549.1 509.1,547.5 512.3,540.8 515.5,496.0 518.6,480.3 521.8,534.4 525.0,538.4 528.2,550.9 531.3,533.5 534.5,538.3 537.7,500.6 540.9,477.9 544.0,532.6 547.2,540.5 550.4,537.1 553.6,545.2 556.8,553.6 559.9,502.9 563.1,492.1 566.3,535.4 569.5,545.2 572.6,536.9 575.8,546.1 579.0,545.3 582.2,500.3 585.3,481.7 588.5,541.6 591.7,530.1 594.9,548.2 598.0,539.3 601.2,546.0 604.4,494.3 607.6,492.5 610.7,541.6 613.9,549.3 617.1,542.1 620.3,540.4 623.4,537.6 626.6,485.9 629.8,482.7 633.0,539.6 636.2,541.6 639.3,547.3 642.5,534.4 645.7,539.6 648.9,500.6 652.0,493.6 655.2,533.8 658.4,545.8 661.6,541.3 664.7,536.5 667.9,538.1 671.1,487.1 674.3,471.9 677.4,540.4 680.6,543.3 683.8,542.5 687.0,544.8 690.1,544.1 693.3,498.0 696.5,483.1 699.7,540.2 702.8,542.1 706.0,541.3 709.2,537.3 712.4,533.7 715.6,495.9 718.7,488.6 721.9,546.8 725.1,547.8 728.3,539.1 731.4,535.8 734.6,538.8 737.8,492.6 741.0,489.0 744.1,535.0 747.3,542.0 750.5,535.9 753.7,545.8 756.8,547.6 760.0,493.6 763.2,486.8 766.4,533.1 769.5,541.9 772.7,545.5 775.9,535.5 779.1,541.5 782.2,491.5 785.4,485.0 788.6,540.4 791.8,540.5 795.0,541.7 798.1,545.1 801.3,543.5 804.5,497.4 807.7,482.4 810.8,545.8 814.0,538.5 817.2,549.5 820.4,541.3 823.5,544.4 826.7,490.6 829.9,490.3 833.1,543.3 836.2,540.3 839.4,543.0 842.6,540.2 845.8,538.7 848.9,486.3 852.1,480.8 855.3,533.8 858.5,538.1 861.6,541.9 864.8,545.9 868.0,533.7 871.2,505.8 874.4,481.6 877.5,549.5 880.7,537.9 883.9,537.2 887.1,541.1 890.2,540.7 893.4,481.1 896.6,470.5 899.8,536.7 902.9,545.3 906.1,545.6 909.3,540.9 912.5,536.7 915.6,484.0 918.8,475.5 922.0,537.4 925.2,534.9 928.3,538.7 931.5,544.4 934.7,536.8 937.9,495.5 941.0,485.2 944.2,535.2 947.4,543.6 950.6,536.6 953.8,539.3 956.9,545.4 960.1,493.5 963.3,480.7 966.5,544.4 969.6,542.7 972.8,549.0 976.0,545.0 979.2,543.5 982.3,482.4 985.5,472.7 988.7,541.6 991.9,541.8 995.0,539.4 998.2,542.0 1001.4,543.1 1004.6,490.8 1007.7,479.4 1010.9,540.5 1014.1,542.4" stroke="#e0623a" stroke-width="1.8"/>
<polyline points="471.0,539.1 474.2,529.2 477.4,572.2 480.5,569.4 483.7,569.8 486.9,568.7 490.1,580.6 493.2,538.5 496.4,530.0 499.6,570.1 502.8,569.7 505.9,571.3 509.1,572.0 512.3,569.1 515.5,541.8 518.6,532.1 521.8,571.7 525.0,567.8 528.2,572.7 531.3,569.6 534.5,572.8 537.7,530.6 540.9,520.6 544.0,572.7 547.2,573.1 550.4,572.6 553.6,571.4 556.8,577.2 559.9,537.0 563.1,526.6 566.3,572.7 569.5,558.9 572.6,577.1 575.8,566.3 579.0,572.7 582.2,534.7 585.3,529.5 588.5,567.0 591.7,568.3 594.9,567.3 598.0,575.0 601.2,572.5 604.4,542.0 607.6,531.0 610.7,573.3 613.9,569.9 617.1,571.3 620.3,579.5 623.4,577.0 626.6,539.2 629.8,527.9 633.0,573.8 636.2,569.9 639.3,571.0 642.5,573.4 645.7,570.1 648.9,543.5 652.0,538.1 655.2,573.1 658.4,574.6 661.6,573.4 664.7,566.1 667.9,569.8 671.1,543.1 674.3,534.1 677.4,575.1 680.6,566.6 683.8,569.6 687.0,568.7 690.1,567.5 693.3,527.2 696.5,519.7 699.7,569.4 702.8,569.4 706.0,572.2 709.2,575.9 712.4,570.7 715.6,541.2 718.7,533.3 721.9,572.7 725.1,568.9 728.3,573.1 731.4,569.3 734.6,568.8 737.8,535.1 741.0,513.1 744.1,569.9 747.3,578.0 750.5,570.3 753.7,576.4 756.8,573.5 760.0,541.3 763.2,529.9 766.4,574.7 769.5,567.8 772.7,573.1 775.9,562.6 779.1,566.3 782.2,543.8 785.4,530.8 788.6,572.3 791.8,570.7 795.0,565.4 798.1,569.7 801.3,571.0 804.5,538.2 807.7,519.8 810.8,579.7 814.0,568.7 817.2,561.3 820.4,570.2 823.5,574.4 826.7,541.9 829.9,533.7 833.1,572.9 836.2,572.1 839.4,569.0 842.6,569.9 845.8,568.2 848.9,539.5 852.1,532.1 855.3,577.9 858.5,570.7 861.6,565.2 864.8,574.5 868.0,572.6 871.2,530.2 874.4,520.2 877.5,567.3 880.7,572.3 883.9,568.9 887.1,564.9 890.2,572.1 893.4,527.0 896.6,524.5 899.8,571.1 902.9,578.5 906.1,569.1 909.3,576.0 912.5,577.8 915.6,528.8 918.8,518.0 922.0,572.1 925.2,569.0 928.3,571.5 931.5,563.9 934.7,572.3 937.9,541.1 941.0,527.2 944.2,570.5 947.4,566.2 950.6,565.7 953.8,574.2 956.9,571.8 960.1,529.3 963.3,516.4 966.5,573.6 969.6,572.3 972.8,569.9 976.0,575.3 979.2,577.2 982.3,540.9 985.5,529.1 988.7,571.6 991.9,570.8 995.0,565.2 998.2,566.1 1001.4,575.7 1004.6,536.9 1007.7,530.2 1010.9,564.6 1014.1,573.3" stroke="#5b9ad6" stroke-width="1.4"/>
<polyline points="471.0,437.6 474.2,426.9 477.4,485.4 480.5,492.0 483.7,501.5 486.9,495.8 490.1,489.3 493.2,419.7 496.4,408.4 499.6,486.2 502.8,483.4 505.9,506.8 509.1,501.4 512.3,492.4 515.5,429.1 518.6,402.6 521.8,479.8 525.0,489.9 528.2,494.6 531.3,492.4 534.5,488.1 537.7,417.9 540.9,402.1 544.0,483.1 547.2,489.4 550.4,495.8 553.6,499.4 556.8,495.6 559.9,421.3 563.1,408.7 566.3,491.2 569.5,488.6 572.6,500.5 575.8,498.7 579.0,493.6 582.2,431.8 585.3,418.7 588.5,495.9 591.7,483.4 594.9,491.3 598.0,492.2 601.2,490.5 604.4,429.6 607.6,415.9 610.7,495.3 613.9,488.9 617.1,498.5 620.3,487.9 623.4,479.6 626.6,417.3 629.8,406.7 633.0,493.7 636.2,488.1 639.3,501.7 642.5,498.1 645.7,487.8 648.9,435.6 652.0,416.7 655.2,494.4 658.4,494.8 661.6,503.3 664.7,488.3 667.9,489.8 671.1,422.8 674.3,413.0 677.4,486.6 680.6,496.8 683.8,495.8 687.0,491.0 690.1,486.2 693.3,422.4 696.5,406.7 699.7,486.5 702.8,501.6 706.0,491.4 709.2,492.4 712.4,488.8 715.6,433.2 718.7,414.8 721.9,485.0 725.1,490.6 728.3,502.9 731.4,492.5 734.6,484.6 737.8,431.6 741.0,417.7 744.1,493.3 747.3,492.1 750.5,503.2 753.7,490.8 756.8,481.9 760.0,430.9 763.2,417.3 766.4,494.4 769.5,485.1 772.7,503.0 775.9,495.9 779.1,490.5 782.2,417.2 785.4,411.4 788.6,489.5 791.8,489.5 795.0,500.7 798.1,495.2 801.3,486.4 804.5,432.5 807.7,410.1 810.8,484.8 814.0,490.3 817.2,506.7 820.4,504.7 823.5,492.8 826.7,429.1 829.9,408.7 833.1,491.9 836.2,499.2 839.4,494.2 842.6,497.0 845.8,485.8 848.9,421.9 852.1,412.7 855.3,485.0 858.5,489.7 861.6,495.0 864.8,493.4 868.0,497.0 871.2,428.1 874.4,413.1 877.5,489.4 880.7,488.3 883.9,506.0 887.1,493.9 890.2,490.3 893.4,428.9 896.6,414.8 899.8,488.2 902.9,501.2 906.1,504.9 909.3,502.8 912.5,483.3 915.6,426.4 918.8,406.0 922.0,485.2 925.2,491.2 928.3,502.6 931.5,494.5 934.7,485.0 937.9,444.7 941.0,425.3 944.2,488.3 947.4,494.5 950.6,497.2 953.8,498.7 956.9,481.7 960.1,436.1 963.3,425.3 966.5,485.8 969.6,492.3 972.8,500.6 976.0,494.2 979.2,490.1 982.3,436.3 985.5,416.0 988.7,486.2 991.9,484.9 995.0,497.1 998.2,486.8 1001.4,486.1 1004.6,438.0 1007.7,427.0 1010.9,487.9 1014.1,486.9" stroke="#74c6da" stroke-width="1.4"/>
<polyline points="471.0,534.0 474.2,526.2 477.4,572.3 480.5,570.7 483.7,563.9 486.9,564.6 490.1,572.1 493.2,520.1 496.4,517.0 499.6,568.9 502.8,568.6 505.9,574.5 509.1,577.7 512.3,575.4 515.5,542.3 518.6,529.7 521.8,565.7 525.0,576.2 528.2,572.3 531.3,569.9 534.5,565.9 537.7,536.5 540.9,538.6 544.0,572.0 547.2,581.7 550.4,566.2 553.6,575.0 556.8,572.2 559.9,534.3 563.1,531.7 566.3,577.5 569.5,572.2 572.6,568.1 575.8,568.9 579.0,567.0 582.2,526.2 585.3,515.6 588.5,566.0 591.7,576.2 594.9,573.7 598.0,571.4 601.2,570.1 604.4,539.2 607.6,517.2 610.7,575.7 613.9,579.3 617.1,570.8 620.3,570.6 623.4,570.5 626.6,534.2 629.8,524.5 633.0,566.5 636.2,575.3 639.3,561.2 642.5,575.7 645.7,578.0 648.9,535.0 652.0,527.8 655.2,571.4 658.4,570.7 661.6,566.7 664.7,572.3 667.9,571.5 671.1,532.8 674.3,519.0 677.4,573.4 680.6,572.2 683.8,574.4 687.0,566.8 690.1,568.4 693.3,532.3 696.5,521.5 699.7,574.1 702.8,567.6 706.0,568.6 709.2,570.0 712.4,570.0 715.6,538.0 718.7,529.9 721.9,566.0 725.1,569.2 728.3,567.6 731.4,570.4 734.6,576.8 737.8,531.4 741.0,523.7 744.1,576.2 747.3,566.3 750.5,565.0 753.7,573.1 756.8,572.7 760.0,539.7 763.2,527.3 766.4,569.3 769.5,577.0 772.7,572.0 775.9,573.0 779.1,562.7 782.2,529.3 785.4,520.7 788.6,562.6 791.8,570.8 795.0,566.0 798.1,566.7 801.3,574.3 804.5,526.5 807.7,518.6 810.8,563.2 814.0,565.3 817.2,572.5 820.4,574.4 823.5,571.1 826.7,531.0 829.9,521.0 833.1,577.7 836.2,564.0 839.4,571.8 842.6,579.0 845.8,574.5 848.9,537.8 852.1,527.2 855.3,567.1 858.5,570.2 861.6,572.9 864.8,568.0 868.0,565.2 871.2,540.5 874.4,535.5 877.5,571.4 880.7,573.5 883.9,574.1 887.1,573.7 890.2,571.1 893.4,528.0 896.6,515.6 899.8,567.3 902.9,578.3 906.1,568.8 909.3,569.6 912.5,574.1 915.6,547.3 918.8,532.0 922.0,572.4 925.2,570.1 928.3,571.0 931.5,573.8 934.7,577.0 937.9,534.0 941.0,528.5 944.2,566.2 947.4,575.2 950.6,569.3 953.8,580.5 956.9,568.6 960.1,545.3 963.3,539.3 966.5,568.4 969.6,567.8 972.8,563.1 976.0,577.8 979.2,569.6 982.3,536.7 985.5,529.1 988.7,582.6 991.9,567.9 995.0,577.2 998.2,579.6 1001.4,571.3 1004.6,526.9 1007.7,517.9 1010.9,567.7 1014.1,569.0" stroke="#c8607e" stroke-width="1.4"/>
<polyline points="471.0,526.5 474.2,519.1 477.4,575.5 480.5,563.0 483.7,573.1 486.9,570.4 490.1,568.9 493.2,526.0 496.4,518.1 499.6,566.2 502.8,569.1 505.9,574.3 509.1,569.7 512.3,577.8 515.5,532.9 518.6,526.4 521.8,568.9 525.0,567.8 528.2,565.3 531.3,568.0 534.5,568.9 537.7,547.7 540.9,527.3 544.0,570.9 547.2,574.3 550.4,568.7 553.6,575.3 556.8,568.5 559.9,543.7 563.1,534.4 566.3,558.1 569.5,571.9 572.6,572.8 575.8,571.6 579.0,573.1 582.2,530.9 585.3,522.7 588.5,570.0 591.7,566.8 594.9,565.0 598.0,565.5 601.2,562.5 604.4,538.7 607.6,527.9 610.7,566.5 613.9,573.8 617.1,565.2 620.3,574.7 623.4,566.3 626.6,543.0 629.8,533.5 633.0,567.2 636.2,571.1 639.3,564.1 642.5,574.3 645.7,570.1 648.9,541.0 652.0,532.0 655.2,563.6 658.4,573.6 661.6,571.6 664.7,567.6 667.9,566.5 671.1,542.2 674.3,535.9 677.4,568.3 680.6,567.1 683.8,560.7 687.0,567.8 690.1,561.4 693.3,537.7 696.5,527.9 699.7,571.5 702.8,571.8 706.0,564.9 709.2,566.2 712.4,566.6 715.6,527.5 718.7,523.3 721.9,567.6 725.1,565.9 728.3,571.4 731.4,566.0 734.6,571.4 737.8,525.0 741.0,518.9 744.1,571.1 747.3,564.3 750.5,567.7 753.7,565.2 756.8,565.6 760.0,530.9 763.2,522.4 766.4,568.0 769.5,564.2 772.7,567.4 775.9,567.5 779.1,571.5 782.2,529.0 785.4,518.1 788.6,562.0 791.8,576.1 795.0,571.7 798.1,560.8 801.3,570.4 804.5,542.9 807.7,530.9 810.8,566.7 814.0,570.6 817.2,565.8 820.4,567.0 823.5,564.6 826.7,528.5 829.9,523.1 833.1,566.0 836.2,570.5 839.4,571.8 842.6,560.0 845.8,560.6 848.9,535.1 852.1,529.3 855.3,564.0 858.5,567.8 861.6,568.8 864.8,573.6 868.0,568.1 871.2,534.4 874.4,522.1 877.5,577.8 880.7,569.0 883.9,576.5 887.1,574.4 890.2,562.1 893.4,536.6 896.6,532.1 899.8,568.3 902.9,567.5 906.1,570.6 909.3,567.7 912.5,566.1 915.6,531.1 918.8,525.0 922.0,569.1 925.2,565.8 928.3,569.5 931.5,573.3 934.7,567.9 937.9,527.3 941.0,520.1 944.2,567.2 947.4,570.9 950.6,564.1 953.8,568.6 956.9,567.0 960.1,540.3 963.3,529.4 966.5,569.3 969.6,570.2 972.8,566.8 976.0,568.5 979.2,568.6 982.3,530.2 985.5,526.1 988.7,566.6 991.9,566.3 995.0,561.1 998.2,561.5 1001.4,567.2 1004.6,540.1 1007.7,523.8 1010.9,567.5 1014.1,565.9" stroke="#d9a040" stroke-width="1.4"/>
<polyline points="471.0,624.5 474.2,609.9 477.4,625.2 480.5,628.3 483.7,622.5 486.9,628.6 490.1,623.3 493.2,618.9 496.4,611.7 499.6,625.3 502.8,629.5 505.9,628.7 509.1,628.6 512.3,626.8 515.5,619.5 518.6,608.9 521.8,625.4 525.0,632.2 528.2,623.2 531.3,628.2 534.5,623.8 537.7,619.3 540.9,607.2 544.0,628.7 547.2,625.9 550.4,625.0 553.6,628.6 556.8,628.0 559.9,622.5 563.1,605.8 566.3,628.4 569.5,630.9 572.6,625.4 575.8,628.9 579.0,624.2 582.2,625.6 585.3,609.1 588.5,622.4 591.7,629.0 594.9,624.2 598.0,624.4 601.2,629.9 604.4,619.6 607.6,605.4 610.7,625.8 613.9,627.6 617.1,626.5 620.3,626.6 623.4,625.3 626.6,622.5 629.8,605.0 633.0,625.8 636.2,625.7 639.3,621.4 642.5,627.5 645.7,626.8 648.9,620.2 652.0,605.9 655.2,628.5 658.4,633.2 661.6,623.4 664.7,624.4 667.9,628.4 671.1,624.1 674.3,603.7 677.4,626.8 680.6,627.5 683.8,628.0 687.0,628.6 690.1,628.0 693.3,619.1 696.5,610.0 699.7,627.2 702.8,624.5 706.0,624.2 709.2,627.9 712.4,624.1 715.6,619.5 718.7,605.9 721.9,629.0 725.1,626.6 728.3,624.6 731.4,627.1 734.6,626.8 737.8,623.0 741.0,610.9 744.1,627.2 747.3,629.8 750.5,626.0 753.7,627.8 756.8,625.4 760.0,618.8 763.2,613.1 766.4,626.4 769.5,624.0 772.7,624.3 775.9,628.8 779.1,629.1 782.2,619.4 785.4,606.1 788.6,628.3 791.8,630.2 795.0,623.7 798.1,626.8 801.3,628.7 804.5,620.6 807.7,608.7 810.8,627.0 814.0,628.4 817.2,624.8 820.4,629.4 823.5,628.6 826.7,624.2 829.9,605.9 833.1,627.8 836.2,629.3 839.4,623.8 842.6,626.6 845.8,627.3 848.9,616.9 852.1,606.7 855.3,627.0 858.5,628.6 861.6,625.3 864.8,628.4 868.0,625.4 871.2,616.6 874.4,611.4 877.5,625.0 880.7,626.1 883.9,626.6 887.1,628.1 890.2,628.4 893.4,620.0 896.6,607.3 899.8,627.0 902.9,624.7 906.1,624.3 909.3,626.0 912.5,631.2 915.6,622.3 918.8,601.9 922.0,627.6 925.2,628.5 928.3,627.5 931.5,627.0 934.7,628.0 937.9,619.7 941.0,606.7 944.2,627.2 947.4,627.1 950.6,624.6 953.8,631.5 956.9,628.7 960.1,616.0 963.3,607.0 966.5,626.8 969.6,629.0 972.8,624.0 976.0,627.3 979.2,626.5 982.3,620.0 985.5,605.1 988.7,627.5 991.9,626.9 995.0,624.3 998.2,622.1 1001.4,626.6 1004.6,617.0 1007.7,610.4 1010.9,628.3 1014.1,628.9" stroke="#cfae55" stroke-width="1.35"/>
<polyline points="471.0,623.9 474.2,610.2 477.4,626.4 480.5,626.2 483.7,625.5 486.9,627.0 490.1,625.3 493.2,620.5 496.4,612.3 499.6,622.9 502.8,627.7 505.9,622.6 509.1,630.5 512.3,625.0 515.5,620.6 518.6,610.6 521.8,629.3 525.0,628.9 528.2,620.0 531.3,626.3 534.5,628.5 537.7,619.0 540.9,611.1 544.0,621.4 547.2,629.6 550.4,622.1 553.6,624.2 556.8,629.3 559.9,622.3 563.1,612.8 566.3,630.1 569.5,627.0 572.6,620.6 575.8,630.0 579.0,624.2 582.2,620.9 585.3,614.9 588.5,629.6 591.7,626.1 594.9,624.5 598.0,623.7 601.2,628.3 604.4,621.0 607.6,611.2 610.7,625.6 613.9,626.2 617.1,627.4 620.3,626.0 623.4,628.1 626.6,619.4 629.8,611.6 633.0,627.6 636.2,626.3 639.3,623.4 642.5,627.1 645.7,628.4 648.9,618.2 652.0,611.5 655.2,629.5 658.4,631.5 661.6,622.9 664.7,627.2 667.9,628.8 671.1,620.9 674.3,609.9 677.4,626.4 680.6,630.8 683.8,621.5 687.0,627.7 690.1,628.2 693.3,616.3 696.5,612.7 699.7,626.4 702.8,628.9 706.0,625.0 709.2,627.4 712.4,629.2 715.6,621.0 718.7,615.4 721.9,622.6 725.1,626.5 728.3,625.2 731.4,622.0 734.6,631.5 737.8,618.1 741.0,611.8 744.1,624.3 747.3,627.1 750.5,625.1 753.7,629.4 756.8,627.7 760.0,616.2 763.2,609.6 766.4,627.4 769.5,624.7 772.7,625.2 775.9,626.7 779.1,631.3 782.2,621.1 785.4,611.5 788.6,628.9 791.8,624.5 795.0,624.4 798.1,624.5 801.3,628.1 804.5,623.3 807.7,612.2 810.8,624.4 814.0,629.2 817.2,622.5 820.4,627.9 823.5,626.8 826.7,617.5 829.9,615.7 833.1,623.5 836.2,625.7 839.4,621.1 842.6,625.8 845.8,627.8 848.9,624.0 852.1,612.9 855.3,622.0 858.5,626.3 861.6,624.0 864.8,624.8 868.0,627.8 871.2,618.8 874.4,614.7 877.5,625.3 880.7,625.0 883.9,623.8 887.1,626.8 890.2,628.6 893.4,618.6 896.6,614.0 899.8,624.8 902.9,625.8 906.1,623.0 909.3,628.0 912.5,624.6 915.6,620.2 918.8,613.4 922.0,626.9 925.2,626.1 928.3,621.0 931.5,626.2 934.7,625.9 937.9,625.8 941.0,612.9 944.2,625.2 947.4,627.8 950.6,625.7 953.8,624.5 956.9,623.5 960.1,620.3 963.3,611.9 966.5,629.7 969.6,628.8 972.8,622.4 976.0,627.8 979.2,624.4 982.3,625.7 985.5,608.2 988.7,629.2 991.9,629.7 995.0,625.5 998.2,629.8 1001.4,622.6 1004.6,619.7 1007.7,607.9 1010.9,626.6 1014.1,628.1" stroke="#86b07a" stroke-width="1.35"/>
<polyline points="471.0,623.6 474.2,611.4 477.4,623.9 480.5,628.9 483.7,626.3 486.9,627.3 490.1,629.8 493.2,620.7 496.4,609.3 499.6,624.4 502.8,629.0 505.9,624.7 509.1,625.7 512.3,627.0 515.5,619.2 518.6,605.7 521.8,625.7 525.0,626.4 528.2,622.8 531.3,627.0 534.5,628.0 537.7,618.0 540.9,606.4 544.0,624.6 547.2,628.6 550.4,623.1 553.6,624.3 556.8,626.3 559.9,618.1 563.1,617.1 566.3,626.0 569.5,627.4 572.6,624.0 575.8,627.3 579.0,628.4 582.2,619.9 585.3,615.0 588.5,624.7 591.7,628.0 594.9,622.1 598.0,627.9 601.2,628.9 604.4,613.6 607.6,612.3 610.7,626.1 613.9,626.5 617.1,626.4 620.3,624.8 623.4,625.1 626.6,618.3 629.8,608.2 633.0,630.9 636.2,626.3 639.3,625.9 642.5,628.8 645.7,631.7 648.9,618.2 652.0,606.8 655.2,629.1 658.4,625.4 661.6,620.5 664.7,627.5 667.9,627.0 671.1,619.9 674.3,614.8 677.4,627.0 680.6,629.8 683.8,619.2 687.0,628.9 690.1,624.9 693.3,621.8 696.5,608.8 699.7,625.7 702.8,631.5 706.0,621.1 709.2,627.8 712.4,629.1 715.6,621.6 718.7,610.5 721.9,627.4 725.1,622.8 728.3,620.0 731.4,625.1 734.6,627.5 737.8,624.8 741.0,609.8 744.1,625.8 747.3,628.0 750.5,624.2 753.7,628.6 756.8,627.8 760.0,623.9 763.2,607.5 766.4,627.3 769.5,628.4 772.7,627.8 775.9,627.5 779.1,626.9 782.2,623.9 785.4,605.7 788.6,629.2 791.8,626.4 795.0,623.0 798.1,631.0 801.3,631.7 804.5,618.3 807.7,608.6 810.8,624.7 814.0,625.0 817.2,618.3 820.4,625.5 823.5,631.0 826.7,622.0 829.9,612.7 833.1,624.2 836.2,627.1 839.4,620.8 842.6,625.4 845.8,627.2 848.9,624.0 852.1,610.5 855.3,625.4 858.5,628.2 861.6,621.8 864.8,624.6 868.0,626.6 871.2,621.3 874.4,608.2 877.5,626.3 880.7,629.2 883.9,623.1 887.1,628.4 890.2,625.1 893.4,620.2 896.6,610.1 899.8,627.6 902.9,627.3 906.1,621.0 909.3,629.6 912.5,629.1 915.6,624.5 918.8,608.0 922.0,624.9 925.2,624.8 928.3,626.4 931.5,628.3 934.7,627.0 937.9,622.3 941.0,611.8 944.2,626.5 947.4,630.5 950.6,622.0 953.8,623.8 956.9,631.3 960.1,618.8 963.3,604.8 966.5,628.5 969.6,628.1 972.8,622.9 976.0,627.3 979.2,626.3 982.3,625.5 985.5,609.8 988.7,623.7 991.9,628.6 995.0,628.5 998.2,628.7 1001.4,628.6 1004.6,622.4 1007.7,609.1 1010.9,626.4 1014.1,627.5" stroke="#9b77c0" stroke-width="1.35"/>
<polyline points="471.0,617.5 474.2,607.9 477.4,627.3 480.5,619.1 483.7,624.8 486.9,626.6 490.1,628.1 493.2,619.3 496.4,614.5 499.6,624.5 502.8,629.1 505.9,619.5 509.1,628.5 512.3,627.2 515.5,618.7 518.6,614.9 521.8,625.1 525.0,623.2 528.2,623.6 531.3,627.6 534.5,620.1 537.7,620.7 540.9,615.8 544.0,622.1 547.2,625.2 550.4,620.6 553.6,627.2 556.8,622.7 559.9,620.2 563.1,609.2 566.3,621.4 569.5,627.0 572.6,622.5 575.8,623.7 579.0,626.0 582.2,618.9 585.3,614.9 588.5,622.2 591.7,627.5 594.9,623.1 598.0,627.4 601.2,623.7 604.4,619.2 607.6,611.1 610.7,620.4 613.9,625.0 617.1,620.9 620.3,627.2 623.4,624.8 626.6,621.5 629.8,614.8 633.0,623.6 636.2,622.5 639.3,623.2 642.5,624.7 645.7,624.3 648.9,619.2 652.0,615.2 655.2,622.0 658.4,623.6 661.6,622.4 664.7,624.0 667.9,623.6 671.1,621.8 674.3,611.4 677.4,624.1 680.6,623.3 683.8,624.4 687.0,623.4 690.1,622.6 693.3,620.1 696.5,612.0 699.7,626.9 702.8,623.5 706.0,619.0 709.2,628.0 712.4,623.8 715.6,620.1 718.7,611.8 721.9,623.5 725.1,627.7 728.3,628.2 731.4,625.9 734.6,623.6 737.8,617.8 741.0,611.2 744.1,623.7 747.3,631.4 750.5,623.6 753.7,624.2 756.8,625.6 760.0,619.9 763.2,612.5 766.4,626.1 769.5,621.5 772.7,623.4 775.9,626.2 779.1,624.9 782.2,617.6 785.4,613.0 788.6,624.5 791.8,625.9 795.0,625.6 798.1,623.6 801.3,623.8 804.5,621.7 807.7,611.6 810.8,621.9 814.0,626.1 817.2,616.0 820.4,625.2 823.5,625.0 826.7,624.3 829.9,614.4 833.1,626.9 836.2,623.5 839.4,620.4 842.6,625.2 845.8,625.2 848.9,616.5 852.1,614.0 855.3,626.5 858.5,623.2 861.6,624.0 864.8,622.0 868.0,625.7 871.2,620.5 874.4,607.6 877.5,622.6 880.7,627.9 883.9,622.0 887.1,624.8 890.2,623.4 893.4,620.0 896.6,611.6 899.8,624.7 902.9,624.7 906.1,625.2 909.3,624.6 912.5,627.6 915.6,621.1 918.8,611.4 922.0,622.4 925.2,624.0 928.3,624.1 931.5,625.3 934.7,626.6 937.9,618.5 941.0,608.6 944.2,625.9 947.4,624.7 950.6,618.1 953.8,626.9 956.9,627.7 960.1,621.6 963.3,609.0 966.5,623.3 969.6,628.2 972.8,622.3 976.0,621.3 979.2,625.9 982.3,619.1 985.5,615.4 988.7,624.2 991.9,625.4 995.0,619.4 998.2,626.2 1001.4,629.5 1004.6,621.7 1007.7,607.4 1010.9,624.6 1014.1,624.1" stroke="#8a9ab0" stroke-width="1.35"/>
<polyline points="471.0,526.6 474.2,515.5 477.4,577.3 480.5,572.9 483.7,569.3 486.9,569.9 490.1,574.4 493.2,543.3 496.4,530.1 499.6,570.5 502.8,569.7 505.9,573.5 509.1,568.0 512.3,566.6 515.5,533.0 518.6,523.1 521.8,572.3 525.0,564.5 528.2,569.7 531.3,573.1 534.5,572.7 537.7,545.1 540.9,527.3 544.0,573.7 547.2,572.1 550.4,567.0 553.6,569.7 556.8,573.9 559.9,533.6 563.1,527.1 566.3,566.6 569.5,576.2 572.6,563.9 575.8,561.6 579.0,562.6 582.2,541.2 585.3,531.9 588.5,563.5 591.7,568.8 594.9,569.3 598.0,573.5 601.2,569.7 604.4,524.4 607.6,517.5 610.7,564.9 613.9,569.1 617.1,578.2 620.3,574.3 623.4,571.7 626.6,528.8 629.8,524.3 633.0,568.7 636.2,570.6 639.3,573.2 642.5,569.8 645.7,568.7 648.9,544.1 652.0,535.3 655.2,570.7 658.4,571.9 661.6,575.2 664.7,568.0 667.9,570.8 671.1,534.9 674.3,527.5 677.4,567.8 680.6,573.1 683.8,573.4 687.0,565.7 690.1,573.5 693.3,539.4 696.5,529.9 699.7,566.6 702.8,574.0 706.0,571.2 709.2,574.2 712.4,563.6 715.6,534.3 718.7,526.6 721.9,567.4 725.1,565.4 728.3,572.7 731.4,574.3 734.6,572.9 737.8,535.6 741.0,524.6 744.1,565.8 747.3,567.7 750.5,570.0 753.7,564.6 756.8,572.0 760.0,532.2 763.2,521.5 766.4,574.3 769.5,575.4 772.7,570.8 775.9,564.7 779.1,566.8 782.2,543.1 785.4,533.1 788.6,571.2 791.8,576.1 795.0,569.9 798.1,568.2 801.3,567.9 804.5,533.3 807.7,526.9 810.8,569.7 814.0,566.2 817.2,568.0 820.4,575.1 823.5,570.4 826.7,530.8 829.9,527.8 833.1,572.1 836.2,571.3 839.4,571.2 842.6,560.6 845.8,574.9 848.9,525.8 852.1,517.5 855.3,571.2 858.5,570.6 861.6,567.1 864.8,573.3 868.0,567.5 871.2,533.4 874.4,523.5 877.5,572.7 880.7,566.9 883.9,569.9 887.1,569.1 890.2,569.9 893.4,531.9 896.6,521.8 899.8,562.8 902.9,574.7 906.1,562.1 909.3,579.4 912.5,577.2 915.6,534.1 918.8,530.0 922.0,573.4 925.2,562.8 928.3,565.5 931.5,575.8 934.7,572.3 937.9,525.6 941.0,519.0 944.2,573.1 947.4,569.8 950.6,567.3 953.8,571.4 956.9,570.7 960.1,540.3 963.3,530.0 966.5,567.7 969.6,566.8 972.8,571.6 976.0,575.3 979.2,570.8 982.3,547.8 985.5,535.9 988.7,569.6 991.9,566.9 995.0,571.2 998.2,576.4 1001.4,574.6 1004.6,538.1 1007.7,537.0 1010.9,570.8 1014.1,568.4" stroke="#c8b46a" stroke-width="1.4"/>
<polyline points="471.0,537.1 474.2,529.2 477.4,566.4 480.5,576.0 483.7,571.6 486.9,574.5 490.1,573.4 493.2,536.2 496.4,521.7 499.6,577.2 502.8,573.8 505.9,573.5 509.1,573.5 512.3,571.5 515.5,528.2 518.6,518.9 521.8,576.0 525.0,576.7 528.2,580.9 531.3,571.3 534.5,570.3 537.7,536.7 540.9,521.9 544.0,573.8 547.2,570.6 550.4,569.9 553.6,567.2 556.8,570.3 559.9,537.7 563.1,525.2 566.3,572.7 569.5,569.6 572.6,573.2 575.8,565.3 579.0,570.4 582.2,534.5 585.3,527.4 588.5,572.5 591.7,574.9 594.9,577.3 598.0,574.6 601.2,575.2 604.4,545.1 607.6,531.3 610.7,567.8 613.9,572.2 617.1,573.9 620.3,567.7 623.4,579.0 626.6,541.4 629.8,532.4 633.0,575.1 636.2,571.8 639.3,573.4 642.5,567.8 645.7,577.0 648.9,529.9 652.0,519.9 655.2,571.9 658.4,567.2 661.6,568.1 664.7,569.5 667.9,585.2 671.1,538.9 674.3,527.5 677.4,574.8 680.6,569.8 683.8,563.2 687.0,567.7 690.1,576.4 693.3,535.6 696.5,529.0 699.7,571.7 702.8,579.1 706.0,567.3 709.2,577.0 712.4,568.8 715.6,533.3 718.7,521.5 721.9,570.9 725.1,573.3 728.3,577.7 731.4,565.9 734.6,571.4 737.8,536.8 741.0,525.5 744.1,571.6 747.3,574.0 750.5,566.0 753.7,572.4 756.8,574.8 760.0,536.3 763.2,523.3 766.4,574.5 769.5,567.2 772.7,573.1 775.9,570.2 779.1,573.6 782.2,531.6 785.4,520.8 788.6,573.9 791.8,572.2 795.0,573.5 798.1,571.2 801.3,572.4 804.5,530.1 807.7,520.3 810.8,573.8 814.0,571.0 817.2,575.4 820.4,572.5 823.5,568.1 826.7,535.2 829.9,529.0 833.1,566.8 836.2,570.0 839.4,575.6 842.6,571.9 845.8,575.3 848.9,540.8 852.1,534.0 855.3,578.4 858.5,569.5 861.6,572.4 864.8,569.7 868.0,576.3 871.2,526.2 874.4,521.6 877.5,573.6 880.7,567.8 883.9,571.1 887.1,569.1 890.2,573.8 893.4,534.8 896.6,525.3 899.8,574.1 902.9,566.0 906.1,568.1 909.3,571.6 912.5,568.8 915.6,542.0 918.8,533.1 922.0,571.2 925.2,570.4 928.3,567.4 931.5,567.1 934.7,566.3 937.9,534.4 941.0,528.3 944.2,572.1 947.4,573.9 950.6,568.1 953.8,573.5 956.9,578.6 960.1,537.7 963.3,536.7 966.5,575.4 969.6,572.9 972.8,567.4 976.0,570.4 979.2,568.0 982.3,540.0 985.5,525.7 988.7,565.8 991.9,568.3 995.0,575.0 998.2,572.0 1001.4,568.4 1004.6,535.6 1007.7,531.3 1010.9,567.6 1014.1,573.7" stroke="#e08fb5" stroke-width="1.4"/>
<polyline points="471.0,521.7 474.2,519.9 477.4,563.6 480.5,573.1 483.7,572.8 486.9,565.2 490.1,571.1 493.2,530.4 496.4,522.4 499.6,571.3 502.8,565.4 505.9,569.5 509.1,566.8 512.3,571.4 515.5,529.9 518.6,526.1 521.8,576.0 525.0,568.5 528.2,570.3 531.3,567.1 534.5,572.0 537.7,533.3 540.9,531.6 544.0,575.3 547.2,568.0 550.4,573.6 553.6,571.3 556.8,561.1 559.9,527.3 563.1,520.4 566.3,573.6 569.5,571.3 572.6,577.4 575.8,563.9 579.0,573.9 582.2,523.8 585.3,519.4 588.5,575.9 591.7,565.7 594.9,566.7 598.0,577.5 601.2,572.2 604.4,542.7 607.6,532.6 610.7,569.4 613.9,567.4 617.1,565.7 620.3,569.7 623.4,563.3 626.6,540.0 629.8,526.1 633.0,566.7 636.2,570.7 639.3,571.5 642.5,570.6 645.7,568.5 648.9,541.5 652.0,534.5 655.2,570.1 658.4,565.9 661.6,567.3 664.7,575.2 667.9,573.4 671.1,531.9 674.3,524.1 677.4,569.4 680.6,572.4 683.8,570.5 687.0,571.7 690.1,572.8 693.3,537.0 696.5,520.9 699.7,566.9 702.8,571.4 706.0,567.0 709.2,568.7 712.4,565.1 715.6,538.0 718.7,528.7 721.9,569.0 725.1,575.9 728.3,575.3 731.4,562.8 734.6,572.3 737.8,539.8 741.0,531.5 744.1,575.8 747.3,564.5 750.5,573.7 753.7,575.3 756.8,569.5 760.0,529.6 763.2,525.4 766.4,571.0 769.5,564.9 772.7,569.4 775.9,572.3 779.1,567.9 782.2,528.6 785.4,533.7 788.6,568.6 791.8,572.7 795.0,572.9 798.1,568.6 801.3,571.5 804.5,542.1 807.7,532.8 810.8,567.0 814.0,572.2 817.2,566.9 820.4,576.7 823.5,573.6 826.7,541.3 829.9,531.5 833.1,574.8 836.2,573.5 839.4,566.1 842.6,568.3 845.8,571.1 848.9,537.8 852.1,527.8 855.3,567.8 858.5,576.4 861.6,563.5 864.8,572.7 868.0,575.6 871.2,544.9 874.4,535.0 877.5,572.0 880.7,574.8 883.9,572.1 887.1,575.1 890.2,570.8 893.4,546.9 896.6,533.6 899.8,577.7 902.9,575.8 906.1,564.2 909.3,571.6 912.5,563.1 915.6,533.5 918.8,520.6 922.0,578.7 925.2,570.9 928.3,565.7 931.5,573.5 934.7,568.7 937.9,532.6 941.0,523.6 944.2,579.2 947.4,574.7 950.6,582.6 953.8,576.1 956.9,566.6 960.1,535.4 963.3,527.6 966.5,574.3 969.6,574.3 972.8,574.8 976.0,573.8 979.2,580.4 982.3,537.9 985.5,532.3 988.7,565.3 991.9,569.9 995.0,570.1 998.2,573.9 1001.4,573.2 1004.6,535.6 1007.7,524.5 1010.9,566.2 1014.1,564.3" stroke="#c79ad8" stroke-width="1.4"/>
<polyline points="471.0,620.6 474.2,609.1 477.4,626.4 480.5,629.1 483.7,628.0 486.9,629.1 490.1,627.4 493.2,625.7 496.4,611.0 499.6,629.0 502.8,626.2 505.9,623.8 509.1,628.1 512.3,628.4 515.5,621.8 518.6,614.6 521.8,626.0 525.0,630.2 528.2,622.1 531.3,624.7 534.5,627.2 537.7,620.1 540.9,604.3 544.0,626.4 547.2,628.7 550.4,624.2 553.6,631.5 556.8,630.5 559.9,622.6 563.1,606.3 566.3,628.2 569.5,630.8 572.6,622.9 575.8,630.1 579.0,628.1 582.2,617.8 585.3,609.8 588.5,627.9 591.7,630.8 594.9,621.9 598.0,625.2 601.2,627.6 604.4,621.4 607.6,617.3 610.7,626.3 613.9,626.9 617.1,627.1 620.3,624.2 623.4,627.4 626.6,617.9 629.8,608.1 633.0,629.1 636.2,631.5 639.3,626.5 642.5,626.5 645.7,625.9 648.9,619.8 652.0,612.5 655.2,627.2 658.4,628.9 661.6,625.9 664.7,626.6 667.9,628.5 671.1,621.5 674.3,611.5 677.4,628.9 680.6,627.5 683.8,620.1 687.0,630.2 690.1,630.4 693.3,620.7 696.5,606.8 699.7,626.7 702.8,629.0 706.0,630.5 709.2,625.1 712.4,629.9 715.6,619.0 718.7,606.9 721.9,627.1 725.1,632.7 728.3,625.5 731.4,629.4 734.6,629.6 737.8,625.3 741.0,608.1 744.1,632.4 747.3,627.0 750.5,621.4 753.7,624.1 756.8,630.6 760.0,620.2 763.2,609.8 766.4,629.7 769.5,624.9 772.7,623.7 775.9,624.3 779.1,630.0 782.2,619.6 785.4,609.1 788.6,626.5 791.8,625.7 795.0,627.0 798.1,626.4 801.3,623.8 804.5,621.3 807.7,608.2 810.8,628.9 814.0,629.0 817.2,622.3 820.4,628.0 823.5,629.1 826.7,618.0 829.9,615.4 833.1,626.8 836.2,625.9 839.4,626.9 842.6,627.7 845.8,625.1 848.9,619.4 852.1,615.1 855.3,625.6 858.5,628.8 861.6,624.1 864.8,630.1 868.0,630.4 871.2,617.7 874.4,615.1 877.5,623.3 880.7,629.7 883.9,624.8 887.1,627.0 890.2,630.8 893.4,618.2 896.6,610.3 899.8,628.1 902.9,629.0 906.1,626.0 909.3,627.3 912.5,627.3 915.6,623.9 918.8,610.8 922.0,629.4 925.2,629.6 928.3,626.7 931.5,626.1 934.7,625.7 937.9,623.7 941.0,608.6 944.2,626.3 947.4,623.7 950.6,622.2 953.8,627.6 956.9,625.3 960.1,621.2 963.3,610.0 966.5,627.2 969.6,629.8 972.8,624.4 976.0,630.6 979.2,625.3 982.3,620.3 985.5,611.7 988.7,628.9 991.9,628.4 995.0,624.3 998.2,629.7 1001.4,626.8 1004.6,620.6 1007.7,607.8 1010.9,626.4 1014.1,625.4" stroke="#3f3f9a" stroke-width="1.35"/>
<polyline points="471.0,617.3 474.2,614.6 477.4,625.2 480.5,628.0 483.7,625.3 486.9,630.1 490.1,627.9 493.2,618.8 496.4,606.1 499.6,623.5 502.8,628.5 505.9,624.6 509.1,627.4 512.3,628.3 515.5,619.7 518.6,604.5 521.8,621.9 525.0,625.7 528.2,624.7 531.3,627.3 534.5,630.6 537.7,615.2 540.9,608.1 544.0,624.7 547.2,626.6 550.4,621.9 553.6,626.9 556.8,627.6 559.9,620.2 563.1,606.9 566.3,625.3 569.5,628.0 572.6,623.2 575.8,626.6 579.0,625.8 582.2,619.9 585.3,608.4 588.5,628.3 591.7,624.0 594.9,625.9 598.0,629.5 601.2,628.2 604.4,617.2 607.6,610.2 610.7,628.4 613.9,624.0 617.1,623.3 620.3,627.1 623.4,624.6 626.6,618.5 629.8,607.1 633.0,628.0 636.2,625.9 639.3,624.2 642.5,627.4 645.7,627.9 648.9,619.7 652.0,610.3 655.2,627.3 658.4,630.3 661.6,627.0 664.7,626.2 667.9,626.2 671.1,619.6 674.3,605.0 677.4,626.9 680.6,622.9 683.8,625.0 687.0,626.5 690.1,624.7 693.3,617.7 696.5,608.2 699.7,627.0 702.8,626.3 706.0,624.3 709.2,626.6 712.4,630.7 715.6,622.6 718.7,610.3 721.9,627.2 725.1,626.5 728.3,626.3 731.4,626.6 734.6,629.0 737.8,620.1 741.0,606.4 744.1,628.4 747.3,622.1 750.5,624.9 753.7,626.4 756.8,627.5 760.0,623.5 763.2,606.6 766.4,625.3 769.5,626.6 772.7,625.6 775.9,622.5 779.1,626.4 782.2,620.2 785.4,610.2 788.6,625.2 791.8,624.7 795.0,625.9 798.1,628.3 801.3,627.8 804.5,620.6 807.7,608.8 810.8,626.4 814.0,623.3 817.2,625.2 820.4,627.4 823.5,627.9 826.7,620.4 829.9,605.3 833.1,627.5 836.2,625.7 839.4,625.6 842.6,627.4 845.8,625.7 848.9,622.8 852.1,610.1 855.3,626.9 858.5,627.2 861.6,623.6 864.8,628.2 868.0,625.6 871.2,620.2 874.4,612.2 877.5,628.7 880.7,627.7 883.9,627.6 887.1,628.4 890.2,624.0 893.4,621.5 896.6,611.7 899.8,623.0 902.9,625.3 906.1,629.6 909.3,626.2 912.5,626.3 915.6,624.1 918.8,613.8 922.0,626.7 925.2,624.5 928.3,625.5 931.5,628.9 934.7,629.7 937.9,623.3 941.0,607.1 944.2,625.3 947.4,629.2 950.6,624.8 953.8,629.0 956.9,625.8 960.1,620.7 963.3,609.1 966.5,624.9 969.6,629.0 972.8,625.2 976.0,627.3 979.2,626.9 982.3,621.2 985.5,605.4 988.7,624.7 991.9,626.5 995.0,625.4 998.2,627.4 1001.4,624.0 1004.6,620.1 1007.7,603.1 1010.9,629.6 1014.1,625.1" stroke="#3f8090" stroke-width="1.35"/>
<polyline points="471.0,560.4 474.2,555.8 477.4,592.6 480.5,596.9 483.7,602.3 486.9,596.8 490.1,597.8 493.2,569.4 496.4,563.3 499.6,596.1 502.8,598.4 505.9,601.1 509.1,591.4 512.3,593.8 515.5,570.8 518.6,566.7 521.8,590.5 525.0,596.0 528.2,602.9 531.3,598.9 534.5,596.3 537.7,561.0 540.9,557.5 544.0,597.0 547.2,594.5 550.4,602.9 553.6,600.5 556.8,592.1 559.9,564.3 563.1,565.0 566.3,597.8 569.5,599.1 572.6,601.4 575.8,600.5 579.0,594.9 582.2,561.0 585.3,557.0 588.5,592.4 591.7,595.1 594.9,599.7 598.0,596.9 601.2,595.2 604.4,564.7 607.6,562.1 610.7,590.3 613.9,594.1 617.1,603.0 620.3,596.4 623.4,594.7 626.6,560.5 629.8,555.2 633.0,589.2 636.2,592.0 639.3,604.1 642.5,594.8 645.7,597.3 648.9,568.6 652.0,567.0 655.2,596.9 658.4,592.0 661.6,601.1 664.7,599.5 667.9,593.2 671.1,564.9 674.3,565.8 677.4,593.4 680.6,594.2 683.8,601.7 687.0,595.7 690.1,592.3 693.3,561.1 696.5,559.3 699.7,592.8 702.8,595.6 706.0,599.1 709.2,604.0 712.4,594.7 715.6,564.1 718.7,561.6 721.9,593.9 725.1,596.0 728.3,598.8 731.4,598.7 734.6,592.8 737.8,566.8 741.0,560.7 744.1,592.1 747.3,595.0 750.5,595.9 753.7,594.1 756.8,594.2 760.0,562.0 763.2,556.8 766.4,589.4 769.5,595.6 772.7,602.3 775.9,596.8 779.1,600.1 782.2,567.4 785.4,566.8 788.6,596.4 791.8,594.1 795.0,595.5 798.1,597.0 801.3,592.5 804.5,569.3 807.7,566.6 810.8,590.7 814.0,598.9 817.2,595.6 820.4,596.9 823.5,591.0 826.7,573.3 829.9,565.4 833.1,591.6 836.2,594.0 839.4,604.9 842.6,594.8 845.8,590.7 848.9,561.6 852.1,560.3 855.3,592.2 858.5,595.4 861.6,602.4 864.8,597.5 868.0,596.5 871.2,568.4 874.4,560.0 877.5,592.0 880.7,591.2 883.9,603.6 887.1,593.9 890.2,596.1 893.4,568.2 896.6,560.7 899.8,588.4 902.9,593.2 906.1,602.5 909.3,595.6 912.5,595.0 915.6,562.3 918.8,558.4 922.0,595.2 925.2,593.6 928.3,597.1 931.5,599.4 934.7,596.4 937.9,564.4 941.0,563.2 944.2,594.8 947.4,594.5 950.6,606.1 953.8,598.8 956.9,591.6 960.1,567.1 963.3,559.7 966.5,597.3 969.6,598.3 972.8,599.3 976.0,594.3 979.2,597.3 982.3,567.6 985.5,564.8 988.7,592.1 991.9,600.2 995.0,604.7 998.2,599.7 1001.4,596.9 1004.6,570.0 1007.7,565.2 1010.9,590.0 1014.1,600.2" stroke="#7a2458" stroke-width="1.5"/>
<polyline points="471.0,452.9 474.2,439.2 477.4,510.9 480.5,514.4 483.7,521.3 486.9,522.0 490.1,512.4 493.2,465.3 496.4,454.2 499.6,513.7 502.8,514.4 505.9,513.9 509.1,517.9 512.3,512.5 515.5,457.0 518.6,443.3 521.8,506.0 525.0,516.1 528.2,522.7 531.3,522.0 534.5,513.6 537.7,457.0 540.9,446.5 544.0,517.5 547.2,514.3 550.4,517.7 553.6,514.1 556.8,512.7 559.9,456.7 563.1,446.3 566.3,510.6 569.5,510.9 572.6,517.5 575.8,517.6 579.0,509.0 582.2,456.1 585.3,448.5 588.5,513.7 591.7,513.7 594.9,521.9 598.0,518.3 601.2,503.2 604.4,452.5 607.6,438.7 610.7,509.0 613.9,512.3 617.1,517.0 620.3,510.3 623.4,511.9 626.6,446.6 629.8,435.3 633.0,507.3 636.2,513.3 639.3,521.0 642.5,511.8 645.7,515.4 648.9,461.9 652.0,449.5 655.2,514.7 658.4,517.3 661.6,518.8 664.7,512.9 667.9,510.4 671.1,450.9 674.3,445.7 677.4,509.5 680.6,518.2 683.8,518.3 687.0,514.1 690.1,512.1 693.3,463.2 696.5,454.6 699.7,507.5 702.8,509.9 706.0,515.3 709.2,520.3 712.4,505.2 715.6,459.6 718.7,449.0 721.9,510.5 725.1,515.8 728.3,524.6 731.4,517.9 734.6,503.7 737.8,471.5 741.0,458.6 744.1,512.9 747.3,514.7 750.5,518.7 753.7,514.1 756.8,512.2 760.0,453.9 763.2,445.9 766.4,509.3 769.5,516.5 772.7,519.2 775.9,517.1 779.1,518.2 782.2,464.5 785.4,449.5 788.6,505.9 791.8,515.5 795.0,520.6 798.1,515.4 801.3,511.9 804.5,452.4 807.7,437.0 810.8,510.0 814.0,518.2 817.2,517.0 820.4,524.8 823.5,507.7 826.7,468.6 829.9,449.8 833.1,515.9 836.2,512.8 839.4,522.2 842.6,522.4 845.8,513.6 848.9,464.0 852.1,451.6 855.3,506.6 858.5,508.8 861.6,521.4 864.8,515.7 868.0,515.1 871.2,457.9 874.4,446.6 877.5,512.8 880.7,514.9 883.9,513.5 887.1,512.1 890.2,516.5 893.4,463.9 896.6,452.7 899.8,507.6 902.9,514.3 906.1,519.1 909.3,512.1 912.5,509.1 915.6,466.5 918.8,453.0 922.0,507.6 925.2,511.8 928.3,519.7 931.5,518.0 934.7,507.9 937.9,462.2 941.0,447.9 944.2,510.5 947.4,513.3 950.6,522.0 953.8,519.1 956.9,510.0 960.1,453.6 963.3,437.6 966.5,507.8 969.6,514.5 972.8,523.1 976.0,521.4 979.2,510.5 982.3,454.6 985.5,442.0 988.7,502.6 991.9,521.2 995.0,522.2 998.2,517.5 1001.4,510.5 1004.6,452.6 1007.7,437.7 1010.9,511.1 1014.1,511.4" stroke="#7d4c1f" stroke-width="1.7"/>
<polyline points="471.0,531.3 474.2,528.3 477.4,561.2 480.5,567.7 483.7,569.5 486.9,577.4 490.1,569.8 493.2,534.8 496.4,524.0 499.6,566.6 502.8,569.8 505.9,566.0 509.1,570.0 512.3,572.7 515.5,535.5 518.6,522.7 521.8,566.4 525.0,573.9 528.2,571.7 531.3,570.8 534.5,571.2 537.7,533.9 540.9,530.3 544.0,572.5 547.2,565.5 550.4,570.1 553.6,572.6 556.8,570.1 559.9,537.5 563.1,519.3 566.3,571.4 569.5,565.1 572.6,574.1 575.8,571.5 579.0,573.0 582.2,546.7 585.3,535.7 588.5,571.8 591.7,561.8 594.9,571.6 598.0,571.0 601.2,572.8 604.4,536.2 607.6,533.2 610.7,571.2 613.9,572.5 617.1,569.9 620.3,571.9 623.4,578.1 626.6,531.8 629.8,521.2 633.0,566.7 636.2,577.2 639.3,573.8 642.5,571.1 645.7,569.6 648.9,529.8 652.0,533.3 655.2,567.3 658.4,569.1 661.6,575.9 664.7,563.9 667.9,571.4 671.1,528.3 674.3,521.1 677.4,572.5 680.6,567.5 683.8,569.4 687.0,570.9 690.1,572.8 693.3,531.4 696.5,522.8 699.7,571.7 702.8,573.0 706.0,567.3 709.2,571.1 712.4,577.1 715.6,523.5 718.7,523.5 721.9,575.2 725.1,568.0 728.3,569.2 731.4,570.0 734.6,571.6 737.8,543.6 741.0,535.1 744.1,572.7 747.3,572.2 750.5,578.3 753.7,573.0 756.8,572.8 760.0,532.7 763.2,520.4 766.4,577.2 769.5,577.8 772.7,569.3 775.9,568.0 779.1,572.2 782.2,541.7 785.4,526.2 788.6,573.7 791.8,574.3 795.0,574.9 798.1,570.0 801.3,574.6 804.5,544.1 807.7,533.4 810.8,569.8 814.0,565.0 817.2,570.3 820.4,570.2 823.5,571.3 826.7,540.6 829.9,527.9 833.1,570.8 836.2,570.7 839.4,567.2 842.6,574.1 845.8,568.9 848.9,537.4 852.1,532.4 855.3,567.9 858.5,570.8 861.6,567.2 864.8,573.4 868.0,568.8 871.2,526.2 874.4,521.0 877.5,571.6 880.7,573.2 883.9,565.7 887.1,573.5 890.2,575.9 893.4,532.4 896.6,523.6 899.8,565.0 902.9,577.4 906.1,564.7 909.3,567.6 912.5,569.1 915.6,536.7 918.8,529.7 922.0,574.3 925.2,567.9 928.3,572.1 931.5,576.2 934.7,573.5 937.9,538.7 941.0,532.3 944.2,568.7 947.4,568.4 950.6,574.5 953.8,575.3 956.9,578.7 960.1,530.1 963.3,520.9 966.5,568.2 969.6,569.9 972.8,569.5 976.0,575.8 979.2,564.0 982.3,531.5 985.5,525.5 988.7,569.1 991.9,570.5 995.0,575.9 998.2,573.0 1001.4,564.7 1004.6,542.5 1007.7,534.2 1010.9,562.6 1014.1,574.2" stroke="#4fa9aa" stroke-width="1.4"/>
</g>
<g font-family="Liberation Sans" font-size="8.3" letter-spacing="-0.2" fill="#3c4043" stroke="#3c4043" stroke-width="0.15">
<line x1="442.0" y1="698.0" x2="452.0" y2="698.0" stroke="#3d5bbf" stroke-width="1.6"/>
<text id="lg_Argentina" x="455.4" y="701.0">Argentina</text>
<line x1="513.2" y1="698.0" x2="523.2" y2="698.0" stroke="#4f8fb0" stroke-width="1.6"/>
<text id="lg_Australia" x="526.6" y="701.0">Australia</text>
<line x1="584.4" y1="698.0" x2="594.4" y2="698.0" stroke="#b3315e" stroke-width="1.6"/>
<text id="lg_Belgium" x="597.8" y="701.0">Belgium</text>
<line x1="655.6" y1="698.0" x2="665.6" y2="698.0" stroke="#e27a2c" stroke-width="1.6"/>
<text id="lg_Brazil" x="669.0" y="701.0">Brazil</text>
<line x1="726.8" y1="698.0" x2="736.8" y2="698.0" stroke="#f0a53a" stroke-width="1.6"/>
<text id="lg_Canada" x="740.2" y="701.0">Canada</text>
<line x1="798.0" y1="698.0" x2="808.0" y2="698.0" stroke="#6b7b3a" stroke-width="1.6"/>
<text id="lg_Chile" x="811.4" y="701.0">Chile</text>
<line x1="869.2" y1="698.0" x2="879.2" y2="698.0" stroke="#5a3fb8" stroke-width="1.6"/>
<text id="lg_China" x="882.6" y="701.0">China</text>
<line x1="940.4" y1="698.0" x2="950.4" y2="698.0" stroke="#46507a" stroke-width="1.6"/>
<text id="lg_Colombia" x="953.8" y="701.0">Colombia</text>
<line x1="442.0" y1="710.0" x2="452.0" y2="710.0" stroke="#2f7a66" stroke-width="1.6"/>
<text id="lg_Cuba" x="455.4" y="713.0">Cuba</text>
<line x1="513.2" y1="710.0" x2="523.2" y2="710.0" stroke="#7f9a2e" stroke-width="1.6"/>
<text id="lg_Denmark" x="526.6" y="713.0">Denmark</text>
<line x1="584.4" y1="710.0" x2="594.4" y2="710.0" stroke="#c0483a" stroke-width="1.6"/>
<text id="lg_France" x="597.8" y="713.0">France</text>
<line x1="655.6" y1="710.0" x2="665.6" y2="710.0" stroke="#e0623a" stroke-width="1.6"/>
<text id="lg_Germany" x="669.0" y="713.0">Germany</text>
<line x1="726.8" y1="710.0" x2="736.8" y2="710.0" stroke="#5b9ad6" stroke-width="1.6"/>
<text id="lg_Greece" x="740.2" y="713.0">Greece</text>
<line x1="798.0" y1="710.0" x2="808.0" y2="710.0" stroke="#74c6da" stroke-width="1.6"/>
<text id="lg_India" x="811.4" y="713.0">India</text>
<line x1="869.2" y1="710.0" x2="879.2" y2="710.0" stroke="#c8607e" stroke-width="1.6"/>
<text id="lg_Italy" x="882.6" y="713.0">Italy</text>
<line x1="940.4" y1="710.0" x2="950.4" y2="710.0" stroke="#d9a040" stroke-width="1.6"/>
<text id="lg_Japan" x="953.8" y="713.0">Japan</text>
<line x1="442.0" y1="722.0" x2="452.0" y2="722.0" stroke="#cfae55" stroke-width="1.6"/>
<text id="lg_Kenya" x="455.4" y="725.0">Kenya</text>
<line x1="513.2" y1="722.0" x2="523.2" y2="722.0" stroke="#86b07a" stroke-width="1.6"/>
<text id="lg_Mexico" x="526.6" y="725.0">Mexico</text>
<line x1="584.4" y1="722.0" x2="594.4" y2="722.0" stroke="#9b77c0" stroke-width="1.6"/>
<text id="lg_Netherlands" x="597.8" y="725.0">Netherlands</text>
<line x1="655.6" y1="722.0" x2="665.6" y2="722.0" stroke="#8a9ab0" stroke-width="1.6"/>
<text id="lg_New_Zealand" x="669.0" y="725.0">New Zealand</text>
<line x1="726.8" y1="722.0" x2="736.8" y2="722.0" stroke="#4fa9aa" stroke-width="1.6"/>
<text id="lg_Norway" x="740.2" y="725.0">Norway</text>
<line x1="798.0" y1="722.0" x2="808.0" y2="722.0" stroke="#c8b46a" stroke-width="1.6"/>
<text id="lg_Portugal" x="811.4" y="725.0">Portugal</text>
<line x1="869.2" y1="722.0" x2="879.2" y2="722.0" stroke="#e08fb5" stroke-width="1.6"/>
<text id="lg_Singapore" x="882.6" y="725.0">Singapore</text>
<line x1="940.4" y1="722.0" x2="950.4" y2="722.0" stroke="#c79ad8" stroke-width="1.6"/>
<text id="lg_South_Africa" x="953.8" y="725.0">South Africa</text>
<line x1="442.0" y1="734.0" x2="452.0" y2="734.0" stroke="#3f3f9a" stroke-width="1.6"/>
<text id="lg_South_Korea" x="455.4" y="737.0">South Korea</text>
<line x1="513.2" y1="734.0" x2="523.2" y2="734.0" stroke="#3f8090" stroke-width="1.6"/>
<text id="lg_Spain" x="526.6" y="737.0">Spain</text>
<line x1="584.4" y1="734.0" x2="594.4" y2="734.0" stroke="#7a2458" stroke-width="1.6"/>
<text id="lg_Sweden" x="597.8" y="737.0">Sweden</text>
<line x1="655.6" y1="734.0" x2="665.6" y2="734.0" stroke="#7d4c1f" stroke-width="1.6"/>
<text id="lg_USA" x="669.0" y="737.0">USA</text>
</g>
</svg>

</div>
<div id="popup" style="position:absolute;left:872.5px;top:309.3px;width:292.5px;height:232px;border-radius:7px;background:#fff;border:1px solid #e6e6ec;box-shadow:0 4px 22px rgba(140,140,170,.13)"></div>
<div class="t" id="p_title" style="-webkit-text-stroke:.25px currentColor;left:887.5px;top:328.2px;font-size:16.2px;letter-spacing:.05px;color:#2f3142">Sales Dashboard</div>
<div class="t" id="p_view" style="left:1058.5px;top:330px;font-size:12px;letter-spacing:-.2px;color:#6650d8">View in Validio</div>
<svg class="ico" style="left:1137.5px;top:329.5px" width="12" height="12" viewBox="0 0 12 12" fill="none" stroke="#6650d8" stroke-width="1.15" stroke-linecap="round" stroke-linejoin="round">
<path d="M5 2 H3 Q2 2 2 3 V9.5 Q2 10.5 3 10.5 H9 Q10 10.5 10 9.5 V7.2 M7.2 1.6 H10.5 V4.9 M10.3 1.8 L5.8 6.3"/>
</svg>
<div style="position:absolute;left:887.5px;top:363.3px;width:262px;height:46.2px;border-radius:4px;background:#fef4f4;border:1px solid #f0c4c6"></div>
<svg class="ico" style="left:895px;top:371px" width="16" height="15" viewBox="0 0 16 15" fill="none" stroke="#b3323e" stroke-width="1.1" stroke-linejoin="round">
<path d="M6.9 2.6 Q8 0.9 9.1 2.6 L14.3 11.6 Q15.2 13.4 13.2 13.4 H2.8 Q0.8 13.4 1.7 11.6 Z"/><path d="M8 5.6 V8.6" stroke-linecap="round"/><circle cx="8" cy="10.8" r=".5" fill="#b8282d" stroke="none"/>
</svg>
<div class="t" id="p_a1" style="-webkit-text-stroke:.25px currentColor;left:918.5px;top:372.3px;font-size:12.2px;letter-spacing:.17px;color:#b22a2e">2 out of 14 sources might affect the</div>
<div class="t" id="p_a2" style="-webkit-text-stroke:.25px currentColor;left:918.5px;top:387.7px;font-size:12.2px;letter-spacing:.17px;color:#b22a2e">accuracy of this dashboard</div>

<div class="t" id="p_i1" style="-webkit-text-stroke:.25px currentColor;left:887.5px;top:420.7px;font-size:12.5px;letter-spacing:-.15px;color:#353748">Gold Daily Management Data</div>
<svg class="ico" style="left:887.5px;top:439.5px" width="12" height="11" viewBox="0 0 12 11" fill="none" stroke="#b3323e" stroke-width="1.05" stroke-linejoin="round">
<path d="M5.2 1.9 Q6 0.6 6.8 1.9 L10.8 8.6 Q11.5 10 10 10 H2 Q0.5 10 1.2 8.6 Z"/><path d="M6 4.1 V6.4" stroke-linecap="round"/><circle cx="6" cy="8" r=".45" fill="#b3323e" stroke="none"/>
</svg>
<div class="t" id="p_s1" style="-webkit-text-stroke:.25px currentColor;left:903px;top:441px;font-size:10.5px;letter-spacing:.18px;color:#b22a2e">3 incidents upstream</div>
<svg class="ico" style="left:1137px;top:431px" width="7" height="10" viewBox="0 0 7 10" fill="none" stroke="#9a9ca8" stroke-width="1"><path d="M1.5 1 L5.5 5 L1.5 9"/></svg>
<div style="position:absolute;left:887.5px;top:460px;width:262px;height:1px;background:#e6e6ea"></div>

<div class="t" id="p_i2" style="-webkit-text-stroke:.25px currentColor;left:887.5px;top:470px;font-size:12.5px;letter-spacing:-.01px;color:#353748">Silver Crash Statistics Daily</div>
<svg class="ico" style="left:887.5px;top:489px" width="12" height="11" viewBox="0 0 12 11" fill="none" stroke="#b3323e" stroke-width="1.05" stroke-linejoin="round">
<path d="M5.2 1.9 Q6 0.6 6.8 1.9 L10.8 8.6 Q11.5 10 10 10 H2 Q0.5 10 1.2 8.6 Z"/><path d="M6 4.1 V6.4" stroke-linecap="round"/><circle cx="6" cy="8" r=".45" fill="#b3323e" stroke="none"/>
</svg>
<div class="t" id="p_s2" style="-webkit-text-stroke:.25px currentColor;left:903px;top:490.5px;font-size:10.5px;letter-spacing:.18px;color:#b22a2e">2 incidents downstream</div>
<svg class="ico" style="left:1137px;top:481px" width="7" height="10" viewBox="0 0 7 10" fill="none" stroke="#9a9ca8" stroke-width="1"><path d="M1.5 1 L5.5 5 L1.5 9"/></svg>
<div style="position:absolute;left:887.5px;top:509px;width:262px;height:1px;background:#e6e6ea"></div>

<div id="overlay"></div>
</body></html>
